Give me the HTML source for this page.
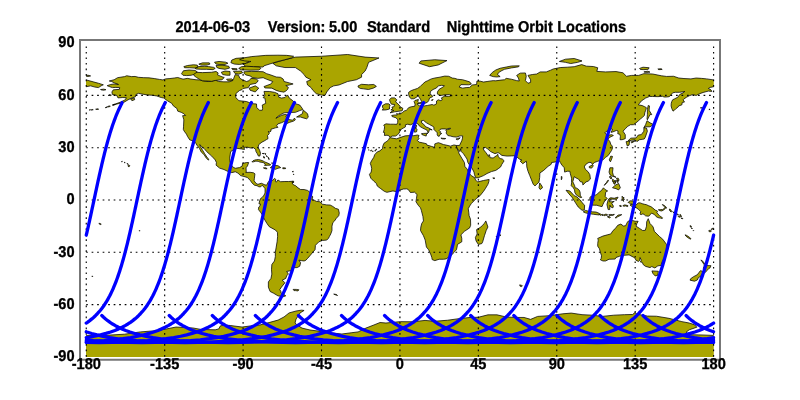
<!DOCTYPE html>
<html><head><meta charset="utf-8"><style>
html,body{margin:0;padding:0;background:#fff;width:800px;height:400px;overflow:hidden}
svg{position:absolute;left:0;top:0}
svg{will-change:transform}
text{stroke:#000;stroke-width:0.3px;font-family:"Liberation Sans",Arial,Helvetica,sans-serif;font-weight:bold;font-size:14.6px;fill:#000;text-rendering:geometricPrecision}
</style></head><body>
<svg width="800" height="400" viewBox="0 0 800 400">
<defs><clipPath id="c"><rect x="86" y="43.17" width="627.8" height="313.73"/></clipPath>
<clipPath id="c2"><rect x="83.26" y="43.17" width="633.34" height="313.67"/></clipPath></defs>
<g clip-path="url(#c)" fill="#aaa500" stroke="#000" stroke-width="0.75" stroke-linejoin="round">
<path d="M561.29,176.47 561.99,176.65 561.82,179.09 561.29,179.79Z"/><path d="M370.48,150.6 371.53,150.16 371.87,150.34 371,151.21Z"/><path d="M372.4,151.21 373.09,150.95 373.09,151.56 372.75,151.64Z"/><path d="M374.66,151.03 375.79,149.9 375.88,150.51 375.19,151.12Z"/><path d="M375.71,149.46 376.49,149.03 376.58,149.64 375.88,149.73Z"/><path d="M368.65,149.73 369,149.81 368.82,150.34Z"/><path d="M496.12,236.59 496.99,236.42 497.17,237.12 496.47,237.2Z"/><path d="M499.78,234.85 500.57,234.85 500.48,235.64 499.87,235.64Z"/><path d="M198.83,64.08 202.49,62.86 209.29,62.86 209.99,64.08 207.02,65.12 200.93,65.12Z"/><path d="M263.4,167.85 265.75,167.76 267.14,168.63 266.1,168.89 264.36,168.46Z"/><path d="M282.74,167.76 285.62,167.94 285.53,168.63 282.83,168.72Z"/><path d="M263.48,156.44 264.53,156.96 264.36,158.18 263.66,157.83Z"/><path d="M262.26,153.47 264.18,153.47 264.01,153.82Z"/><path d="M264.88,153.12 265.75,153.82 265.4,154.69Z"/><path d="M266.27,155.56 267.32,156.44 266.97,156.96Z"/><path d="M271.5,163.06 272.72,162.88 272.37,163.58Z"/><path d="M268.02,157.13 268.71,157.83 269.24,159.4 268.89,159.57Z"/><path d="M292.06,181.18 293.63,181.18 293.63,182.4 292.06,182.4Z"/><path d="M292.24,171.6 293.28,171.25 293.11,172.12Z"/><path d="M293.28,174.12 293.98,174.56 293.63,174.91Z"/><path d="M414.83,125.16 416.4,125.07 416.57,126.64 415.96,127.86 414.92,127.16Z"/><path d="M414.22,128.55 416.14,128.2 417.01,129.42 416.66,131.69 415.61,132.04 414.57,132.21 414.57,130.64Z"/><path d="M421.54,133.61 423.46,133.43 427.11,133.26 426.24,135 426.24,136.05 424.85,135.7 421.89,134.48Z"/><path d="M440.88,137.96 442.62,138.31 445.76,138.49 444.89,139.01 441.75,138.83Z"/><path d="M456.22,138.83 457.44,138.4 460.22,137.79 459,139.01 457.44,139.71 456.39,139.53Z"/><path d="M404.11,130.99 405.51,130.47 405.85,131.17 404.64,131.34Z"/><path d="M419.1,102.94 421.02,102.24 421.89,102.94 421.19,103.81 419.62,103.81Z"/><path d="M417.01,103.29 418.23,103.11 418.75,103.98 417.53,104.16Z"/><path d="M431.47,100.15 432.52,99.1 433.04,99.63 431.99,100.85Z"/><path d="M492.81,177.87 494.9,178.04 494.38,178.57 493.33,178.57Z"/><path d="M639.54,68.43 643.02,67.21 649.12,67.74 648.25,69.31 643.89,69.65 640.41,69.48Z"/><path d="M657.83,68.96 661.32,68.78 662.19,69.48 658.71,69.65Z"/><path d="M643.89,71.92 647.38,71.22 649.99,72.09 646.51,72.44Z"/><path d="M112.4,105.03 114.14,104.24 115.36,104.51 113.62,105.2Z"/><path d="M107.52,106.6 109.26,105.9 110.31,106.25 108.92,106.95Z"/><path d="M105.26,107.64 106.65,106.95 107.35,107.12 105.95,107.82Z"/><path d="M95.67,109.21 97.59,108.86 98.63,109.21 96.72,109.47Z"/><path d="M91.14,109.91 92.54,109.47 93.23,109.73 91.84,110.08Z"/><path d="M89.22,110.08 90.1,109.56 90.62,109.82Z"/><path d="M708.89,109.56 709.76,109.21 710.11,109.56Z"/><path d="M700.35,107.82 701.75,107.64 702.79,107.99 701.4,108.08Z"/><path d="M599.37,214.12 600.68,214.03 601.55,214.64 600.68,215.42 599.63,214.81Z"/><path d="M601.81,214.64 602.77,214.29 603.29,214.81 602.94,215.51 601.9,215.33Z"/><path d="M603.47,214.99 604.86,214.46 605.91,214.12 607.47,214.64 607.3,215.33 605.56,215.33 604.16,215.77Z"/><path d="M608.69,214.81 610.44,214.46 612.53,214.64 614.27,214.29 613.92,214.99 611.66,215.51 609.04,215.33Z"/><path d="M607.3,216.73 609.04,216.38 610.44,217.43 609.39,217.95 607.82,217.08Z"/><path d="M615.14,217.77 616.88,216.21 618.1,214.99 621.76,214.64 620.37,215.51 617.75,216.73 616.01,218.12Z"/><path d="M622.11,196.17 622.98,197.39 624.2,197.73 622.98,198.43 624.55,199.3 623.33,199.65 623.68,201.39 622.63,200.52 622.11,198.61Z"/><path d="M622.98,205.58 624.73,204.88 627.86,205.58 627.69,206.62 625.6,205.92 623.51,206.27Z"/><path d="M619.5,205.58 620.89,205.4 621.59,206.27 620.02,206.62Z"/><path d="M658.36,209.76 660.45,209.58 662.71,209.58 663.93,208.54 665.33,207.32 665.5,208.36 663.93,209.76 661.84,210.98 659.58,210.63Z"/><path d="M662.37,204.53 663.93,205.23 665.68,206.62 666.55,208.02 666.03,208.36 664.46,206.62 662.71,205.23Z"/><path d="M669.34,209.06 670.56,209.58 671.78,211.5 671.08,212.02 669.86,210.98Z"/><path d="M678.05,216.38 679.27,216.03 680.31,216.9 678.92,217.25Z"/><path d="M679.79,214.64 680.49,214.46 681.53,216.55 680.84,216.9Z"/><path d="M675.78,213.24 677,213.77 678.57,214.81 677.87,214.99 676.13,213.77Z"/><path d="M681.01,217.95 682.93,218.47 682.58,218.82 681.36,218.47Z"/><path d="M672.65,211.68 674.39,212.72 673.87,212.9Z"/><path d="M690.07,225.62 691.29,226.14 691.29,227.18 690.42,227.01Z"/><path d="M691.29,227.88 692.34,228.4 691.99,228.93Z"/><path d="M693.04,230.5 693.73,230.67 693.38,231.02Z"/><path d="M685.02,234.85 686.59,235.37 689.2,237.12 690.94,238.69 690.6,239.21 688.33,237.99 686.06,236.25Z"/><path d="M708.72,230.67 710.11,230.15 711.33,230.84 710.81,231.72 709.24,231.72Z"/><path d="M710.98,229.28 712.38,228.4 713.6,228.06 712.9,228.93 711.51,229.62Z"/><path d="M98.81,223.53 99.85,223.35 101.25,224.22 100.2,224.57Z"/><path d="M139.24,230.5 139.93,230.67 139.59,231.19Z"/><path d="M128.26,164.63 129.83,165.67 128.78,167.06 128.08,166.02Z"/><path d="M126.86,163.58 128.08,163.75 127.56,164.1Z"/><path d="M124.08,162.53 125.12,162.88 124.77,162.19Z"/><path d="M121.46,161.66 122.33,161.31 122.16,161.84Z"/><path d="M609.56,176.47 611.13,176.65 611.83,178.39 610.96,178.74 609.91,178.04Z"/><path d="M613.22,181.53 614.27,181.01 615.32,182.57 614.62,184.32 613.57,183.45Z"/><path d="M615.66,180.31 616.19,181.7 614.97,183.45 615.32,182.05Z"/><path d="M616.54,179.96 617.75,180.31 618.28,182.23 617.41,182.57 617.06,181.01Z"/><path d="M519.65,284.86 521.21,285.21 522.43,285.74 521.56,286.61 520.17,286.26Z"/><path d="M333.71,294.1 336.33,294.45 337.54,295.49 335.8,294.97Z"/><path d="M91.84,276.15 92.88,276.33 92.36,276.85Z"/><path d="M86.26,75.4 88,75.23 90.62,75.93 88,76.45 86.26,76.28Z"/><path d="M100.55,89.52 103.69,89.17 105.95,89.69 103.69,90.22 101.07,89.87Z"/><path d="M109.26,94.75 111.36,94.92 110.66,95.79Z"/><path d="M130.7,98.93 134.18,97.88 134.71,99.63 131.92,100.67Z"/><path d="M230.9,62.68 231.77,60.07 236.13,58.33 243.1,57.8 247.45,59.72 249.2,61.46 245.71,63.38 239.61,64.43 234.38,64.08Z"/><path d="M195,67.74 198.83,66.6 204.76,66.26 208.51,66.6 213.82,67.39 215.21,68.43 212.95,69.65 206.33,69.31 200.93,69.31 195.7,68.96Z"/><path d="M183.85,66.6 187.51,65.51 193.43,64.77 197.27,65.12 197.96,67.04 195,68.09 189.77,67.74 184.54,67.74Z"/><path d="M216.09,65.47 222.01,65.12 228.81,66.26 229.5,68.09 224.97,69.31 219.05,68.43 216.78,67.39Z"/><path d="M231.77,68.43 237,68.78 237,69.83 232.64,69.65Z"/><path d="M214.52,62.16 219.05,61.46 225.67,62.16 227.94,63.21 224.97,64.43 219.05,64.43 216.09,64.08Z"/><path d="M233.51,71.4 241.35,71.05 242.57,72.79 238.74,74.18 235.25,73.66Z"/><path d="M221.31,72.27 224.97,71.05 230.03,71.48 230.03,75.23 226.54,75.23 222.71,74.53Z"/><path d="M226.54,79.24 231.77,78.89 233.51,80.46 228.28,80.98Z"/><path d="M107.17,85.69 110.66,84.47 114.14,83.94 118.5,84.47 114.49,82.9 111.53,81.5 109.26,80.98 114.14,79.76 117.63,77.67 124.6,76.62 126.69,75.75 131.57,76.62 135.05,76.45 138.54,77.32 143.77,77.67 149,77.84 154.22,78.54 159.45,79.41 162.94,79.93 165.55,78.89 169.91,78.54 174.26,78.02 177.75,77.5 182.11,78.89 183.85,79.06 187.33,78.37 190.82,79.06 196.05,79.76 199.53,79.93 203.02,80.81 208.24,81.5 211.73,81.15 215.21,80.11 218.7,81.5 223.93,81.85 229.16,81.85 232.64,80.63 233.51,78.89 235.25,74.53 238.74,75.4 239.61,78.02 242.22,79.76 246.58,81.5 249.2,80.63 250.94,78.37 256.17,78.89 258.26,80.63 256.17,83.25 250.07,84.47 248.32,87.6 243.1,88.47 241.88,89.69 239.44,90.56 235.95,93.53 235.78,97.54 238.91,100.67 246.58,101.54 251.81,103.63 256.51,103.98 256.69,107.64 259.65,110.26 262.26,110.26 262.61,108.51 262.26,105.03 265.75,103.29 264.88,98.06 263.14,97.71 264.88,95.44 264.01,91.44 269.24,91.44 274.46,92.31 277.95,93.7 278.82,97.19 281.43,98.06 284.92,97.54 287.53,94.92 289.27,98.06 292.76,100.67 295.37,103.63 299.73,105.03 302.34,108.51 302.87,109.56 299.73,110.6 295.37,112.35 288.4,112.52 284.05,112.87 280.56,114.61 277.95,116.36 275.86,118.27 278.82,116.7 281.43,115.31 284.92,114.44 287.53,114.96 285.79,116.36 287.01,118.1 288.4,119.49 292.76,120.19 294.5,118.1 295.37,119.84 293.63,121.06 289.27,122.45 285.79,124.02 284.92,122.8 287.53,121.06 284.92,121.23 283.18,121.93 281.43,122.8 277.95,123.85 276.55,125.77 277.95,127.33 275.33,127.86 270.98,129.25 270.98,131.17 269.24,132.21 268.36,131.34 269.24,133.78 267.49,135.52 268.02,138.66 266.62,139.53 264.01,141.1 261.92,142.15 258.78,144.59 258.08,147.37 259.65,150.34 260.52,153.3 259.82,156.09 258.43,156.09 257.39,153.82 255.99,151.56 255.64,149.46 253.55,147.72 250.94,148.07 247.45,147.2 243.97,147.37 244.49,149.46 241.35,148.94 236.47,148.24 234.38,149.12 230.55,151.73 230.2,154.69 229.68,158.18 230.03,161.66 230.9,164.28 232.64,166.89 235.25,168.28 239.61,167.59 242.22,166.02 242.57,163.41 246.58,162.53 248.67,162.53 247.45,166.02 246.06,167.76 246.23,172.12 245.71,172.47 250.07,172.29 253.55,172.82 254.95,173.86 254.42,178.22 254.07,180.83 256.17,183.45 257.91,184.32 261.39,183.27 264.88,184.84 266.62,185.19 268.36,181.7 270.11,180.66 272.72,180.31 274.46,178.39 275.86,179.44 275.33,181.18 276.21,182.23 277.95,179.96 280.56,181.7 284.92,181.53 288.4,181.53 291.89,181.35 293.63,182.23 291.89,182.75 293.63,185.01 295.37,185.54 297.99,187.8 300.6,189.54 304.09,189.54 307.57,190.42 310.19,192.51 311.06,194.77 312.8,196.86 311.93,199.65 314.54,200.35 316.29,201.39 319.77,201.74 322.38,204.18 326.74,204.88 330.23,205.05 332.84,206.45 335.45,208.36 338.42,209.24 339.29,213.07 338.76,215.68 336.33,218.3 334.58,220.91 332.84,222.65 331.97,226.14 331.97,230.5 330.75,233.98 329.35,236.59 328.48,238.34 326.74,240.08 322.38,240.43 318.9,241.82 315.41,245.31 315.07,249.66 312.8,252.28 310.19,255.41 307.57,258.38 305.83,260.29 304.09,260.99 301.47,260.64 298.86,260.12 300.6,262.73 299.73,266.22 297.12,267.61 291.89,267.61 291.54,270.58 286.66,271.45 288.4,274.06 286.66,275.8 285.79,278.42 282.3,280.16 284.92,282.77 281.43,287.13 279.69,289.74 280.91,291.31 280.56,292.36 285.79,295.84 283.18,296.71 277.95,295.84 273.59,293.23 270.11,291.49 268.36,287.13 268.36,281.9 270.98,278.42 271.85,274.06 271.5,269.7 271.85,264.48 274.46,260.99 275.33,256.63 275.33,252.28 276.21,247.05 277.08,241.82 277.6,236.59 277.43,232.24 275.33,229.97 269.24,226.66 266.97,223.53 264.88,220.04 262.26,214.81 260.52,212.2 258.43,209.58 258.78,206.97 260,205.92 260.52,204.01 258.95,203.83 259.65,200.87 260.52,198.61 262.26,197.39 264.01,195.12 265.05,193.03 265.05,188.67 264.01,187.28 262.26,185.19 260.52,186.93 258.78,186.76 257.04,185.71 254.42,185.19 251.81,182.75 250.59,180.83 247.45,177.52 243.97,176.47 240.48,175.6 237.87,172.99 235.25,171.77 231.77,172.64 228.28,171.6 223.93,169.5 219.57,168.11 216.09,165.15 216.43,162.53 215.21,159.92 211.73,156.09 209.12,153.82 206.5,151.38 204.24,148.59 201.27,146.33 199.88,144.59 200.4,146.85 202.67,150.34 204.76,153.82 207.37,157.83 209.12,159.57 208.24,160.09 205.63,157.31 204.41,155.04 201.27,152.08 199.53,148.59 196.92,145.11 195.7,143.02 193.78,141.1 189.77,139.88 187.51,136.4 186.46,134.13 184.2,131.17 183.32,129.42 183.5,126.81 183.85,119.84 182.63,115.66 185.59,115.48 183.85,113.74 181.23,112.35 177.75,111.13 176.88,108.51 173.39,105.9 171.65,103.29 167.29,100.67 163.81,98.06 161.19,97.54 156.84,95.97 152.48,95.27 147.25,94.92 142.03,94.05 138.54,93.35 135.93,94.57 135.4,96.84 132.44,97.71 128.08,99.8 123.73,102.41 118.5,103.63 112.75,105.03 115.89,103.81 121.11,101.89 125.47,99.63 126.34,97.71 122.86,97.54 117.98,97.88 116.76,95.44 112.4,94.4 111.88,91.96 113.27,89.87 119.37,89.34 119.72,87.6 115.89,87.43 112.4,87.6 109.79,86.73Z"/><path d="M272.72,63.21 284.92,59.72 295.37,57.11 321.51,56.24 347.65,54.49 365.08,57.11 379.02,57.98 368.56,62.33 366.82,67.56 365.08,71.05 361.59,74.53 361.59,77.15 356.37,79.76 347.65,81.5 338.94,84.99 333.71,85.86 330.23,87.6 326.74,91.96 325,95.44 321.51,95.1 316.29,93.7 312.8,90.22 311.06,87.6 307.57,84.99 306.7,81.5 311.06,79.76 305.83,77.15 304.09,74.53 300.6,71.05 295.37,67.56 284.92,67.56 276.21,65.82Z"/><path d="M243.97,71.74 251.81,71.4 258.78,71.57 263.14,71.74 266.62,73.66 270.98,75.06 276.21,76.97 280.56,77.32 283.18,79.06 284.05,81.5 289.27,82.9 293.11,83.94 289.27,84.99 285.79,85.51 288.4,87.43 287.53,89.52 285.79,91.09 283.87,92.13 279.69,91.44 276.21,90.39 271.85,88.13 264.88,87.95 264.01,86.56 270.98,83.94 272.72,81.5 266.62,79.24 263.14,77.67 257.91,78.37 252.68,77.67 250.07,75.93 245.71,74.88 243.97,73.14Z"/><path d="M193.08,73.75 195.7,72.27 202.49,72.62 211.55,72.27 216.09,71.48 218.18,72.96 217.48,74.88 222.01,76.8 224.28,77.5 222.01,79.76 215.21,80.46 211.55,81.33 202.49,80.81 200.23,79.76 196.57,77.5 194.3,75.93Z"/><path d="M181.5,73.75 183.39,70.75 189.01,70 195,70.4 197.27,71.92 193.5,74.5 191.25,75.25 186.76,75.6 182.99,75.25Z"/><path d="M243.97,66.69 253.55,66.87 263.14,67.04 264.01,65.82 272.72,63.03 277.95,61.46 284.92,59.72 291.89,57.8 293.63,56.24 286.66,55.36 277.95,55.19 265.75,55.36 251.81,56.58 243.1,57.98 239.61,59.72 244.84,60.94 250.94,61.46 246.58,63.21 243.1,64.08 244.84,65.3Z"/><path d="M238.74,68.43 241.35,66.69 246.58,66.17 253.55,66.69 259.65,67.04 260.87,68.43 258.78,70 250.07,70.18 241.35,69.83Z"/><path d="M249.2,88.13 255.29,85.86 258.78,88.13 255.29,91.96 250.07,90.22Z"/><path d="M296.59,117.05 302.34,113.74 303.22,110.08 307.57,113.74 308.27,117.23 306.7,118.79 303.22,117.92 300.6,117.05Z"/><path d="M358.11,85.86 361.59,84.29 368.56,84.81 373.79,84.47 376.4,86.38 373.79,87.95 368.56,89.52 363.34,88.82 360.37,88.47 358.11,87.08Z"/><path d="M390,112.87 394.7,111.82 402.2,110.78 402.89,108.34 400.45,106.95 399.06,105.03 397.14,103.11 395.57,101.89 396.79,99.8 394.7,97.88 391.22,97.88 389.47,99.8 390.35,102.41 391.39,104.16 394.7,104.51 393.83,106.77 391.91,107.12 392.61,108.86 390.87,109.91 393.83,110.43 392.09,111.13Z"/><path d="M389.47,109.04 389.47,106.77 390.17,105.03 388.6,103.81 385.47,103.81 382.5,105.55 382.5,107.29 383.38,108.86 382.16,110.08 385.99,109.91Z"/><path d="M390.17,137.27 388.95,135.87 387.03,135.18 384.42,135.52 384.6,132.56 383.38,132.39 384.25,129.42 384.6,126.81 383.72,125.07 385.99,123.85 390.35,124.2 393.83,124.2 396.79,124.37 397.66,122.45 397.84,119.84 395.92,117.75 392.09,116.53 391.74,115.48 394.7,114.96 397.14,115.14 396.62,113.39 397.84,113.92 400.28,113.74 402.54,112.52 404.29,110.95 406.2,110.43 407.77,108.86 408.64,107.64 411.26,106.77 414.74,106.25 415.09,104.16 414.05,101.54 414.92,100.5 418.4,99.45 417.88,101.54 418.75,102.41 417.18,104.16 418.23,105.2 419.1,105.9 421.71,105.2 424.33,105.9 427.81,105.38 432.17,104.51 433.91,105.2 436.52,103.81 436.52,101.02 438.27,99.8 440.88,100.67 442.28,99.8 441.4,97.88 444.37,96.32 448.72,96.32 452.21,95.62 449.59,94.57 445.24,94.75 440.01,95.62 437.4,94.05 437.4,91.96 439.14,89.34 443.5,86.73 444.37,85.69 441.75,85.34 438.27,85.86 436.52,87.95 433.04,89.52 430.43,91.44 430.08,94.22 432.17,95.44 432.69,96.66 429.55,98.06 428.68,100.67 427.46,102.24 424.67,103.46 422.24,103.11 421.71,101.72 420.49,99.28 419.1,97.19 418.23,95.79 416.48,97.19 413.87,98.75 411.26,98.75 409.51,97.19 408.64,94.57 408.64,92.31 411.26,90.56 414.74,89.34 417.36,88.47 419.97,86.73 422.58,84.12 425.2,81.85 427.81,80.63 431.3,78.89 434.78,78.02 440.01,77.15 444.71,76.1 448.72,76.28 452.21,78.02 454.82,78.37 457.44,79.24 462.66,79.76 469.63,81.85 471.38,84.12 468.76,84.81 460.92,84.64 459.18,87.08 462.66,88.13 466.15,87.6 469.63,87.43 472.25,84.99 476.6,84.47 476.95,80.98 480.09,81.15 483.57,82.03 487.06,81.5 493.16,80.63 495.77,80.81 501,80.11 504.49,79.76 506.23,78.37 511.46,79.24 516.68,80.63 519.3,80.98 518.43,78.02 516.68,75.4 520.17,73.14 525.4,72.96 526.27,76.28 525.4,80.63 528.01,83.25 530.62,82.37 530.62,79.76 528.01,75.4 532.37,74.53 536.72,74.01 540.21,71.92 546.31,71.92 550.66,70.18 553.28,68.96 560.25,67.56 567.22,67.21 574.19,66.69 581.68,64.6 586.39,66.17 593.36,66.52 597.72,67.74 596.84,71.4 605.56,71.92 616.01,71.57 622.98,72.79 626.47,76.28 631.7,75.4 638.67,75.4 643.89,73.66 652.61,74.01 661.32,75.75 666.55,76.45 673.52,76.28 678.75,78.02 683.97,78.54 690.94,78.89 696.17,78.02 701.4,78.37 706.63,78.89 713.6,79.93 720.57,81.85 725.8,83.25 730.68,84.81 728.41,85.86 725.8,87.6 722.31,87.08 717.95,85.86 713.6,86.73 710.11,87.43 708.37,88.47 710.98,89.87 711.86,91.44 708.37,91.09 703.14,92.48 699.66,93.7 696.17,95.44 692.69,94.57 689.2,95.79 686.59,97.19 683.97,98.93 683.1,99.8 684.5,102.07 682.23,102.41 681.88,104.85 678.75,105.9 677.87,107.29 676.13,108.51 674.39,110.26 673,111.13 671.78,108.51 671.08,105.9 671.25,103.29 671.78,101.54 672.65,99.8 674.39,98.93 677.87,97.19 679.62,94.57 683.1,92.83 684.85,91.44 679.62,92.31 675.26,92.31 672.65,92.83 670.03,95.97 669.16,96.66 666.55,97.01 663.93,97.01 662.71,96.32 657.83,96.66 652.61,96.49 649.47,96.49 645.64,98.06 643.89,99.28 641.28,101.02 639.54,103.29 638.32,104.85 642.15,105.55 644.77,106.77 646.33,107.64 645.99,109.38 645.64,110.26 644.77,112.87 644.42,115.48 642.15,117.58 640.41,118.97 638.14,121.06 636.05,122.8 633.44,124.72 630.48,124.72 629.08,125.59 627.69,126.29 625.6,128.55 622.98,131.17 625.25,134.65 625.25,138.66 622.11,139.71 620.02,139.71 620.37,136.4 619.85,134.3 617.75,133.78 618.1,131.17 616.36,130.47 612.53,132.04 611.13,132.39 612.53,129.42 610.78,128.73 608.17,130.64 605.56,131.86 604.86,132.91 606.43,134.65 608.17,135.35 611.66,134.65 613.4,135.52 609.91,137.27 607.82,139.01 609.91,141.62 610.78,144.24 612.18,145.98 612.53,147.9 611.66,150.34 609.91,152.95 608.17,155.56 605.56,157.31 602.94,159.92 599.46,160.79 597.72,161.31 594.23,162.53 592.49,164.63 591.27,162.53 589,162.36 587.26,163.41 585.52,164.63 584.3,166.89 585.52,169.5 588.13,171.77 589.87,174.73 590.4,179.09 588.13,181.18 586.04,181.88 582.9,185.01 582.55,182.23 580.29,181.7 578.55,179.09 575.93,177.87 574.19,176.65 572.8,181.7 573.84,183.97 574.71,185.71 575.06,187.8 576.8,188.15 579.07,189.89 580.11,192.16 580.29,195.29 581.68,197.56 580.11,197.39 576.46,195.12 574.89,192.68 574.54,189.89 573.32,187.8 571.23,185.71 571.58,182.57 571.58,178.22 570.36,173.86 569.83,171.25 567.22,171.25 564.61,172.12 564.26,167.76 561.99,165.15 560.25,162.53 559.38,160.79 557.64,161.66 555.02,162.01 551.54,162.53 551.19,164.28 548.05,166.37 543.69,170.38 539.86,172.99 539.69,177.35 538.99,182.05 536.72,184.32 534.98,185.88 533.24,184.32 531.5,179.96 529.75,175.6 528.01,171.25 526.79,166.89 526.62,163.41 526.27,161.14 522.78,163.75 520.17,161.14 521.91,160.09 519.3,159.05 516.68,156.78 515.81,155.74 511.46,155.91 507.1,156.09 501.87,155.39 499.26,153.3 498.04,152.6 494.9,153.65 490.55,151.56 487.93,149.12 485.32,147.37 483.57,147.9 483.23,148.94 484.45,150.86 486.19,152.95 487.58,155.04 488.45,156.44 489.15,154.52 489.85,156.09 489.85,157.65 493.16,158 496.64,155.56 497.86,154.34 498.21,156.61 500.13,158.53 502.39,159.05 504.14,160.79 501.87,164.28 500.65,166.89 498.39,168.63 495.77,170.38 491.42,171.6 487.06,173.51 483.57,175.6 478.35,177.69 475.73,177.87 474.51,174.73 473.99,172.12 472.25,168.63 469.63,165.15 467.89,162.53 467.02,159.05 465.28,156.44 463.53,153.82 460.92,151.21 460.75,148.59 459.7,151.56 456.74,147.9 456.22,145.46 459.53,145.46 460.75,142.84 461.79,140.75 462.49,138.14 462.66,135.87 460.05,135.87 456.56,137.09 453.08,136.74 450.47,136.05 447.85,135.52 446.11,133.08 446.63,131.17 445.59,130.3 446.11,129.77 447.85,129.6 450.47,128.73 450.47,128.2 447.85,128.55 446.11,129.25 445.24,128.9 441.75,128.9 440.01,129.42 439.14,130.3 440.53,131.69 440.01,132.91 441.75,133.43 440.01,134.65 439.14,136.4 437.74,135.87 437.05,134.13 437.4,132.91 435.65,131.17 433.91,129.42 433.91,127.16 432.17,125.94 429.55,124.55 426.42,122.8 424.33,121.23 423.63,120.36 421.36,120.89 421.71,122.98 423.63,124.2 425.72,126.81 428.16,127.68 432.17,129.95 429.55,129.42 428.68,132.04 427.29,133.78 427.99,132.21 427.11,130.3 425.2,129.25 422.24,127.86 419.45,126.11 418.23,124.2 415.61,122.63 413,123.67 410.39,124.89 407.77,124.2 405.33,124.89 405.51,126.81 403.42,128.03 401.32,129.08 399.93,131.17 399.06,133.26 397.32,134.83 395.57,136.05 392.09,136.05Z"/><path d="M-237.16,137.27 -238.38,135.87 -240.3,135.18 -242.92,135.52 -242.74,132.56 -243.96,132.39 -243.09,129.42 -242.74,126.81 -243.61,125.07 -241.35,123.85 -236.99,124.2 -233.51,124.2 -230.54,124.37 -229.67,122.45 -229.5,119.84 -231.41,117.75 -235.25,116.53 -235.6,115.48 -232.63,114.96 -230.19,115.14 -230.72,113.39 -229.5,113.92 -227.06,113.74 -224.79,112.52 -223.05,110.95 -221.13,110.43 -219.56,108.86 -218.69,107.64 -216.08,106.77 -212.59,106.25 -212.25,104.16 -213.29,101.54 -212.42,100.5 -208.93,99.45 -209.46,101.54 -208.59,102.41 -210.15,104.16 -209.11,105.2 -208.24,105.9 -205.62,105.2 -203.01,105.9 -199.52,105.38 -195.17,104.51 -193.43,105.2 -190.81,103.81 -190.81,101.02 -189.07,99.8 -186.45,100.67 -185.06,99.8 -185.93,97.88 -182.97,96.32 -178.61,96.32 -175.13,95.62 -177.74,94.57 -182.1,94.75 -187.33,95.62 -189.94,94.05 -189.94,91.96 -188.2,89.34 -183.84,86.73 -182.97,85.69 -185.58,85.34 -189.07,85.86 -190.81,87.95 -194.3,89.52 -196.91,91.44 -197.26,94.22 -195.17,95.44 -194.65,96.66 -197.78,98.06 -198.65,100.67 -199.87,102.24 -202.66,103.46 -205.1,103.11 -205.62,101.72 -206.84,99.28 -208.24,97.19 -209.11,95.79 -210.85,97.19 -213.47,98.75 -216.08,98.75 -217.82,97.19 -218.69,94.57 -218.69,92.31 -216.08,90.56 -212.59,89.34 -209.98,88.47 -207.37,86.73 -204.75,84.12 -202.14,81.85 -199.52,80.63 -196.04,78.89 -192.55,78.02 -187.33,77.15 -182.62,76.1 -178.61,76.28 -175.13,78.02 -172.51,78.37 -169.9,79.24 -164.67,79.76 -157.7,81.85 -155.96,84.12 -158.57,84.81 -166.42,84.64 -168.16,87.08 -164.67,88.13 -161.19,87.6 -157.7,87.43 -155.09,84.99 -150.73,84.47 -150.38,80.98 -147.25,81.15 -143.76,82.03 -140.28,81.5 -134.18,80.63 -131.56,80.81 -126.34,80.11 -122.85,79.76 -121.11,78.37 -115.88,79.24 -110.65,80.63 -108.04,80.98 -108.91,78.02 -110.65,75.4 -107.17,73.14 -101.94,72.96 -101.07,76.28 -101.94,80.63 -99.32,83.25 -96.71,82.37 -96.71,79.76 -99.32,75.4 -94.97,74.53 -90.61,74.01 -87.13,71.92 -81.03,71.92 -76.67,70.18 -74.06,68.96 -67.09,67.56 -60.12,67.21 -53.15,66.69 -45.65,64.6 -40.95,66.17 -33.98,66.52 -29.62,67.74 -30.49,71.4 -21.78,71.92 -11.32,71.57 -4.35,72.79 -0.87,76.28 4.36,75.4 11.33,75.4 16.56,73.66 25.27,74.01 33.98,75.75 39.21,76.45 46.18,76.28 51.41,78.02 56.64,78.54 63.61,78.89 68.84,78.02 74.06,78.37 79.29,78.89 86.26,79.93 93.23,81.85 98.46,83.25 103.34,84.81 101.07,85.86 98.46,87.6 94.98,87.08 90.62,85.86 86.26,86.73 82.78,87.43 81.03,88.47 83.65,89.87 84.52,91.44 81.03,91.09 75.81,92.48 72.32,93.7 68.84,95.44 65.35,94.57 61.87,95.79 59.25,97.19 56.64,98.93 55.77,99.8 57.16,102.07 54.9,102.41 54.55,104.85 51.41,105.9 50.54,107.29 48.8,108.51 47.05,110.26 45.66,111.13 44.44,108.51 43.74,105.9 43.92,103.29 44.44,101.54 45.31,99.8 47.05,98.93 50.54,97.19 52.28,94.57 55.77,92.83 57.51,91.44 52.28,92.31 47.92,92.31 45.31,92.83 42.7,95.97 41.83,96.66 39.21,97.01 36.6,97.01 35.38,96.32 30.5,96.66 25.27,96.49 22.13,96.49 18.3,98.06 16.56,99.28 13.94,101.02 12.2,103.29 10.98,104.85 14.82,105.55 17.43,106.77 19,107.64 18.65,109.38 18.3,110.26 17.43,112.87 17.08,115.48 14.82,117.58 13.07,118.97 10.81,121.06 8.72,122.8 6.1,124.72 3.14,124.72 1.75,125.59 0.35,126.29 -1.74,128.55 -4.35,131.17 -2.09,134.65 -2.09,138.66 -5.22,139.71 -7.32,139.71 -6.97,136.4 -7.49,134.3 -9.58,133.78 -9.23,131.17 -10.98,130.47 -14.81,132.04 -16.2,132.39 -14.81,129.42 -16.55,128.73 -19.17,130.64 -21.78,131.86 -22.48,132.91 -20.91,134.65 -19.17,135.35 -15.68,134.65 -13.94,135.52 -17.42,137.27 -19.51,139.01 -17.42,141.62 -16.55,144.24 -15.16,145.98 -14.81,147.9 -15.68,150.34 -17.42,152.95 -19.17,155.56 -21.78,157.31 -24.39,159.92 -27.88,160.79 -29.62,161.31 -33.11,162.53 -34.85,164.63 -36.07,162.53 -38.33,162.36 -40.08,163.41 -41.82,164.63 -43.04,166.89 -41.82,169.5 -39.21,171.77 -37.46,174.73 -36.94,179.09 -39.21,181.18 -41.3,181.88 -44.43,185.01 -44.78,182.23 -47.05,181.7 -48.79,179.09 -51.4,177.87 -53.15,176.65 -54.54,181.7 -53.49,183.97 -52.62,185.71 -52.27,187.8 -50.53,188.15 -48.27,189.89 -47.22,192.16 -47.05,195.29 -45.65,197.56 -47.22,197.39 -50.88,195.12 -52.45,192.68 -52.8,189.89 -54.02,187.8 -56.11,185.71 -55.76,182.57 -55.76,178.22 -56.98,173.86 -57.5,171.25 -60.12,171.25 -62.73,172.12 -63.08,167.76 -65.34,165.15 -67.09,162.53 -67.96,160.79 -69.7,161.66 -72.31,162.01 -75.8,162.53 -76.15,164.28 -79.28,166.37 -83.64,170.38 -87.48,172.99 -87.65,177.35 -88.35,182.05 -90.61,184.32 -92.35,185.88 -94.1,184.32 -95.84,179.96 -97.58,175.6 -99.32,171.25 -100.54,166.89 -100.72,163.41 -101.07,161.14 -104.55,163.75 -107.17,161.14 -105.42,160.09 -108.04,159.05 -110.65,156.78 -111.52,155.74 -115.88,155.91 -120.24,156.09 -125.46,155.39 -128.08,153.3 -129.3,152.6 -132.43,153.65 -136.79,151.56 -139.4,149.12 -142.02,147.37 -143.76,147.9 -144.11,148.94 -142.89,150.86 -141.15,152.95 -139.75,155.04 -138.88,156.44 -138.18,154.52 -137.49,156.09 -137.49,157.65 -134.18,158 -130.69,155.56 -129.47,154.34 -129.12,156.61 -127.21,158.53 -124.94,159.05 -123.2,160.79 -125.46,164.28 -126.68,166.89 -128.95,168.63 -131.56,170.38 -135.92,171.6 -140.28,173.51 -143.76,175.6 -148.99,177.69 -151.6,177.87 -152.82,174.73 -153.35,172.12 -155.09,168.63 -157.7,165.15 -159.44,162.53 -160.32,159.05 -162.06,156.44 -163.8,153.82 -166.42,151.21 -166.59,148.59 -167.63,151.56 -170.6,147.9 -171.12,145.46 -167.81,145.46 -166.59,142.84 -165.54,140.75 -164.85,138.14 -164.67,135.87 -167.29,135.87 -170.77,137.09 -174.26,136.74 -176.87,136.05 -179.48,135.52 -181.23,133.08 -180.7,131.17 -181.75,130.3 -181.23,129.77 -179.48,129.6 -176.87,128.73 -176.87,128.2 -179.48,128.55 -181.23,129.25 -182.1,128.9 -185.58,128.9 -187.33,129.42 -188.2,130.3 -186.8,131.69 -187.33,132.91 -185.58,133.43 -187.33,134.65 -188.2,136.4 -189.59,135.87 -190.29,134.13 -189.94,132.91 -191.68,131.17 -193.43,129.42 -193.43,127.16 -195.17,125.94 -197.78,124.55 -200.92,122.8 -203.01,121.23 -203.71,120.36 -205.97,120.89 -205.62,122.98 -203.71,124.2 -201.62,126.81 -199.18,127.68 -195.17,129.95 -197.78,129.42 -198.65,132.04 -200.05,133.78 -199.35,132.21 -200.22,130.3 -202.14,129.25 -205.1,127.86 -207.89,126.11 -209.11,124.2 -211.72,122.63 -214.34,123.67 -216.95,124.89 -219.56,124.2 -222,124.89 -221.83,126.81 -223.92,128.03 -226.01,129.08 -227.41,131.17 -228.28,133.26 -230.02,134.83 -231.76,136.05 -235.25,136.05Z"/><path d="M389.65,137.61 396.44,138.83 399.93,137.61 405.16,135.87 410.39,135.52 413.87,135.7 417.36,135 419.1,135.52 418.23,137.27 419.1,138.66 417.36,140.4 419.1,142.15 422.58,142.84 426.42,143.71 426.94,145.11 431.3,146.33 433.91,147.2 434.78,145.98 434.78,143.89 438.27,142.67 440.01,143.19 443.5,144.59 446.98,145.28 450.47,146.15 453.95,144.93 456.22,145.46 456.74,147.9 458.31,151.21 459.18,153.82 461.79,158.18 464.41,162.53 464.93,166.89 467.02,168.63 468.76,172.99 471.38,175.6 474.86,177.87 475.56,179.96 477.48,181.88 480.09,181.35 483.57,180.48 489.15,179.44 488.8,181.7 487.93,184.32 485.32,188.67 483.57,191.29 480.09,195.64 476.6,198.26 473.99,200.87 471.38,203.49 469.63,206.1 468.24,208.71 468.76,212.2 469.11,215.68 470.51,219.17 470.68,225.27 469.63,227.88 464.41,231.37 460.92,234.85 461.79,238.34 461.79,241.82 457.44,244.44 457.09,247.05 456.39,249.84 453.95,252.28 452.21,254.54 448.72,257.16 446.11,258.9 443.5,259.25 439.14,259.25 434.78,260.64 432.17,259.6 431.82,257.51 430.95,254.89 428.68,249.84 426.42,247.05 425.2,240.08 423.46,235.72 420.49,230.5 420.84,227.01 421.71,223.53 423.46,220.91 422.93,216.55 421.36,210.46 420.49,207.84 418.23,205.23 415.96,201.74 416.48,198.26 417.01,194.77 415.61,193.03 414.74,192.16 410.39,192.51 408.64,189.89 406.9,188.85 403.42,189.02 399.93,190.07 396.44,191.64 392.96,190.94 386.86,192.33 384.25,191.29 380.76,188.67 377.28,186.06 376.4,183.45 373.79,181.18 370.83,178.22 369.43,174.38 371.18,172.12 371.7,168.63 371.18,166.02 370.31,163.41 371.53,160.79 373.79,157.31 374.66,154.69 377.28,151.9 379.89,150.86 382.5,148.59 382.85,145.98 383.9,143.37 386.86,141.27 388.6,139.88Z"/><path d="M485.84,220.91 487.93,227.01 486.19,230.5 484.45,235.72 482.7,241.82 481.83,243.56 478.35,244.44 476.08,240.95 475.38,237.47 477.13,233.98 476.6,229.62 480.09,227.53 482.7,225.27 484.45,223.18Z"/><path d="M597.72,238.34 598.59,237.99 602.94,236.07 607.3,234.85 610.78,233.98 613.05,230.5 615.14,228.75 617.75,225.27 620.89,224.05 623.33,225.96 625.6,225.79 626.82,223.18 627.86,221.43 630.82,220.04 632.57,220.56 635.18,221.26 638.14,221.26 636.92,223.53 636.05,226.14 639.54,228.4 642.67,230.5 645.29,230.32 646.51,226.14 646.68,221.78 648.25,218.65 649.99,223.53 651.74,225.27 653.13,227.01 654.35,231.37 656.96,233.98 659.58,236.59 662.71,239.21 666.55,244.44 667.59,249.66 666.55,254.02 663.93,258.38 661.67,262.73 661.15,265.35 657.83,265.87 654.87,267.96 651.74,266.57 649.99,267.61 645.64,266.39 643.37,264.82 642.15,262.21 640.41,262.04 641.28,260.12 640.06,257.51 639.54,260.64 638.32,261.51 636.92,260.64 636.05,260.47 635.18,258.38 633.44,257.16 629.08,254.89 624.73,255.24 619.5,256.29 616.01,257.51 615.14,259.07 609.04,259.25 605.56,260.99 602.94,260.99 600.33,259.77 601.2,258.38 601.55,255.76 600.33,252.28 599.46,248.79 597.72,246.18 597.72,243.56 598.24,240.08Z"/><path d="M651.91,270.92 658.36,271.27 657.83,275.28 655.22,275.98 652.96,273.54Z"/><path d="M700.88,259.95 703.14,261.51 704.88,264.13 706.63,265.52 710.98,265.7 709.94,267.96 708.37,268.83 706.98,270.58 705.23,272.49 704.19,271.97 704.88,269.7 703.14,268.31 704.19,266.22 704.01,264.48 702.27,261.86Z"/><path d="M700.88,270.58 703.67,272.49 701.4,274.93 700.88,276.33 698.44,277.55 697.39,279.99 694.43,281.21 690.07,280.16 690.6,278.77 693.56,276.67 697.04,274.93 698.79,272.84 699.83,271.27Z"/><path d="M647.38,119.84 649.99,114.61 651.74,114.61 649.12,110.26 649.47,105.9 648.25,105.38 647.38,109.38 647.38,114.61 647.03,118.97Z"/><path d="M628.04,140.75 630.82,138.14 636.05,137.96 638.32,135 641.28,134.65 643.89,131.17 643.89,127.68 646.51,128.03 647.38,131.17 645.29,137.27 644.24,139.01 642.15,139.36 639.54,139.71 636.92,141.62 635.18,139.88 631.7,140.23 629.08,140.93Z"/><path d="M626.12,141.62 629.6,141.1 629.08,145.11 627.34,145.98 626.47,143.37Z"/><path d="M630.82,141.97 634.66,140.75 633.61,141.97 631.7,142.84Z"/><path d="M643.89,127.68 645.64,124.55 647.03,120.71 649.99,122.8 653.48,124.55 649.99,126.81 645.64,126.81Z"/><path d="M609.22,159.92 610.78,156.09 612.53,156.44 611.66,159.05 610.44,161.84Z"/><path d="M589.18,166.54 592.49,164.97 593.36,165.85 591.62,168.11 589.35,167.76Z"/><path d="M609.04,172.12 609.91,167.76 613.05,167.76 612.53,172.12 613.4,175.6 616.01,177.35 611.66,175.95 610.09,174.91Z"/><path d="M612.53,187.8 615.14,185.19 618.63,183.45 620.37,187.8 618.63,189.89 616.01,188.67Z"/><path d="M616.36,178.22 618.28,178.22 619.15,180.31 617.75,180.83 617.23,179.44Z"/><path d="M612.35,179.44 613.57,179.79 614.62,180.66 613.4,181.7 612.53,181.53Z"/><path d="M604.16,185.36 606.08,183.79 607.82,181.7 608.52,180.31 607.65,180.48 606.43,182.57 604.69,184.49Z"/><path d="M589.87,197.39 590.92,196.51 594.23,195.64 596.84,194.42 599.46,191.98 601.2,190.76 603.47,187.8 605.03,189.54 607.65,190.94 605.56,192.33 605.21,196.51 607.3,198.61 604.69,200.87 602.94,204.36 602.07,206.62 599.46,206.1 596.84,205.23 594.23,205.23 591.96,205.05 591.62,202.61 589.87,200Z"/><path d="M566,190.24 569.83,190.94 574.19,195.64 576.8,196.86 580.29,200 582.03,202.61 584.65,205.23 584.3,210.11 582.03,210.28 578.2,206.97 575.06,202.09 572.1,197.39 568.96,193.9Z"/><path d="M583.25,211.85 585.52,210.46 589,211.33 592.49,211.85 595.97,212.02 599.46,213.42 599.28,214.99 593.36,214.29 589,213.59 585.52,212.9Z"/><path d="M607.3,206.1 606.95,204.36 608.17,200 609.04,198.61 610.78,197.73 614.27,198.26 616.88,197.39 618.1,197.21 616.88,199.13 612.53,199.13 609.91,199.13 609.39,201.74 611.66,201.74 614.27,201.39 611.66,203.14 613.4,206.1 612.88,207.84 610.78,206.97 609.91,205.23 609.74,209.58 608.17,209.58Z"/><path d="M628.04,202.44 629.08,201.39 630.82,200.7 632.57,201.22 633.61,201.57 633.79,203.83 635.18,205.75 636.05,205.23 636.92,204.01 638.67,202.79 640.41,202.96 642.15,203.66 644.77,204.36 646.51,204.71 648.25,205.58 650.86,206.62 652.61,207.84 654,209.06 655.22,210.11 656.96,210.8 657.66,211.33 656.79,212.2 657.83,213.94 659.58,215.68 660.97,216.73 662.71,217.95 662.19,218.47 660.45,218.12 657.83,217.6 656.09,216.55 654.35,214.46 651.74,213.24 650.17,214.46 649.47,215.68 648.25,216.21 645.64,215.86 643.89,214.29 642.15,213.94 641.28,214.64 640.41,214.46 640.06,213.07 640.93,211.85 638.67,209.58 636.92,208.19 634.83,207.14 633.44,206.8 632.39,206.97 631.35,206.1 629.95,204.88 630.82,204.71 632.57,204.36 631.7,204.01 630.3,203.83 629.08,202.79Z"/><path d="M538.99,187.8 539.69,182.92 541.95,186.06 542.47,187.8 540.21,189.54Z"/><path d="M251.9,161.91 253.03,160.79 254.95,160.01 256.34,159.66 258.43,159.57 260.52,160.01 263.14,160.97 264.88,162.01 268.02,163.23 270.75,164.71 270.11,165.15 267.84,165.24 264.53,165.41 265.4,164.1 263.14,162.53 259.65,162.01 258.43,161.49 257.04,161.14 255.29,161.31 253.55,161.84Z"/><path d="M270.28,167.76 273.07,165.32 277.95,165.67 280.74,167.59 277.95,168.28 275.33,169.33 273.07,168.28Z"/><path d="M419.1,63.21 429.55,66.69 438.27,64.95 446.98,60.59 434.78,59.72 420.84,60.94Z"/><path d="M489.67,75.4 492.29,72.44 495.77,70 500.13,68.26 506.23,67.04 511.46,65.99 519.3,65.82 518.43,66.87 511.46,67.91 504.49,69.31 501,71.05 498.39,72.79 497.52,74.53 500.13,76.62 496.64,76.97 493.16,76.62Z"/><path d="M559.38,61.46 565.48,59.2 574.19,58.5 582.03,60.94 577.68,62.33 570.7,63.55 565.48,62.33Z"/><path d="M293.11,289.4 296.25,289.4 298.86,289.74 297.99,290.96 295.72,290.62 293.98,290.62Z"/><path d="M84.52,360.32 84.52,335.92 86.26,335.4 103.69,335.57 109.96,335.05 124.6,334.18 140.28,331.91 155.97,330.69 166.42,328.95 176.01,327.04 192.56,327.91 201.27,329.48 215.21,329.82 218.7,328.95 220.44,325.82 225.67,325.12 230.2,325.47 242.05,327.04 250.07,325.99 260,324.94 269.93,322.33 278.12,320.07 284.05,316.93 289.1,312.92 296.07,311 301.47,310.13 304.09,310.48 300.08,312.92 296.07,319.02 295.03,323.03 297.12,324.94 302,328.08 310.01,330 318.03,331.04 323.95,332.44 331.97,332.96 341.9,334.01 351.14,332.79 358.11,331.91 365.95,328.08 373.97,324.94 380.06,322.5 385.99,323.03 392.96,322.33 400.28,321.63 412.13,321.81 425.02,320.41 434.78,321.28 447.5,320.24 458.83,318.67 469.98,317.45 478.35,317.28 487.93,314.84 496.99,314.84 506.05,316.93 514.94,317.45 524,317.45 530.62,319.37 537.6,316.41 548.92,315.71 562.86,313.79 571.23,313.09 582.03,314.66 592.49,315.19 602.07,316.41 613.75,315.19 624.55,314.66 632.57,314.49 635.01,312.57 636.92,314.14 647.38,316.06 656.44,316.23 668.99,318.32 681.88,321.63 689.2,323.03 694.6,324.77 696.87,327.21 689.2,329.82 686.06,332.26 689.2,334.7 698.96,334.88 713.6,335.4 715.34,335.92 715.34,360.32Z"/>
</g>
<path d="M86.26,304.56H713.6M86.26,252.28H713.6M86.26,200H713.6M86.26,147.72H713.6M86.26,95.44H713.6" stroke="#000" stroke-width="1.15" stroke-dasharray="1.7 3.813" stroke-dashoffset="0.15" fill="none"/>
<path d="M86.26,43.17V356.83M164.68,43.17V356.83M243.1,43.17V356.83M321.51,43.17V356.83M399.93,43.17V356.83M478.35,43.17V356.83M556.76,43.17V356.83M635.18,43.17V356.83M713.6,43.17V356.83" stroke="#000" stroke-width="1.15" stroke-dasharray="1.7 3.813" stroke-dashoffset="2.3" fill="none"/>
<g fill="none" stroke="#0000ff" stroke-width="3.3" stroke-linecap="round" stroke-linejoin="round">
<path d="M423.71,102.59 L422.76,104.38 L421.86,106.18 L420.99,107.98 L420.16,109.78 L419.35,111.59 L418.58,113.39 L417.83,115.2 L417.11,117.01 L416.42,118.82 L415.74,120.64 L415.08,122.45 L414.45,124.27 L413.82,126.09 L413.22,127.91 L412.63,129.73 L412.06,131.55 L411.49,133.37 L410.94,135.19 L410.41,137.02 L409.88,138.84 L409.36,140.67 L408.85,142.49 L408.35,144.32 L407.86,146.14 L407.38,147.97 L406.91,149.8 L406.44,151.63 L405.98,153.46 L405.52,155.29 L405.07,157.12 L404.63,158.95 L404.19,160.78 L403.75,162.61 L403.32,164.44 L402.9,166.27 L402.47,168.11 L402.06,169.94 L401.64,171.77 L401.23,173.6 L400.82,175.44 L400.41,177.27 L400.01,179.1 L399.6,180.94 L399.2,182.77 L398.8,184.61 L398.41,186.44 L398.01,188.27 L397.62,190.11 L397.22,191.94 L396.83,193.78 L396.44,195.61 L396.05,197.44 L395.65,199.28 L395.26,201.11 L394.87,202.95 L394.48,204.78 L394.09,206.62 L393.69,208.45 L393.3,210.28 L392.9,212.12 L392.51,213.95 L392.11,215.79 L391.71,217.62 L391.31,219.45 L390.91,221.29 L390.5,223.12 L390.09,224.95 L389.68,226.79 L389.27,228.62 L388.86,230.45 L388.44,232.28 L388.01,234.12 L387.59,235.95 L387.15,237.78 L386.72,239.61 L386.28,241.44 L385.83,243.27 L385.38,245.1 L384.92,246.93 L384.46,248.76 L383.99,250.59 L383.52,252.42 L383.03,254.24 L382.54,256.07 L382.04,257.9 L381.53,259.72 L381.01,261.55 L380.48,263.37 L379.94,265.2 L379.39,267.02 L378.82,268.84 L378.24,270.66 L377.65,272.48 L377.04,274.3 L376.42,276.12 L375.78,277.93 L375.12,279.75 L374.44,281.56 L373.73,283.37 L373.01,285.18 L372.26,286.99 L371.48,288.8 L370.67,290.6 L369.83,292.4 L368.95,294.2 L368.04,296 L367.08,297.79 L366.08,299.58 L365.03,301.37 L363.92,303.15 L362.76,304.93 L361.52,306.7 L360.22,308.47 L358.83,310.23 L357.35,311.98 L355.77,313.73 L354.07,315.47 L352.25,317.2 L350.27,318.91 L348.14,320.62 L345.81,322.31 L343.27,323.98 L340.48,325.63 L337.41,327.26 L334.01,328.86 L330.22,330.43 L325.99,331.97 L321.24,333.45 L315.89,334.89 L309.83,336.25 L302.97,337.54 L295.21,338.73 L286.44,339.8 L276.6,340.73 L265.69,341.5 L253.82,342.07 L241.19,342.42 L228.14,342.54 L215.09,342.43 L202.44,342.08 L190.53,341.52 L179.59,340.76 L169.71,339.84 L160.9,338.77 L153.09,337.59 L146.2,336.3 L140.12,334.94 L134.74,333.51 L129.97,332.02 L125.72,330.49 L121.92,328.92 L118.5,327.32 L115.42,325.69 L112.62,324.04 L110.07,322.37 L107.74,320.68 L105.59,318.98 L103.62,317.26 L101.79,315.53"/><path d="M380.64,102.59 L379.69,104.38 L378.79,106.18 L377.92,107.98 L377.09,109.78 L376.28,111.59 L375.51,113.39 L374.76,115.2 L374.04,117.01 L373.35,118.82 L372.67,120.64 L372.01,122.45 L371.38,124.27 L370.75,126.09 L370.15,127.91 L369.56,129.73 L368.99,131.55 L368.42,133.37 L367.87,135.19 L367.34,137.02 L366.81,138.84 L366.29,140.67 L365.78,142.49 L365.28,144.32 L364.79,146.14 L364.31,147.97 L363.84,149.8 L363.37,151.63 L362.91,153.46 L362.45,155.29 L362,157.12 L361.56,158.95 L361.12,160.78 L360.68,162.61 L360.25,164.44 L359.83,166.27 L359.4,168.11 L358.99,169.94 L358.57,171.77 L358.16,173.6 L357.75,175.44 L357.34,177.27 L356.94,179.1 L356.53,180.94 L356.13,182.77 L355.73,184.61 L355.34,186.44 L354.94,188.27 L354.55,190.11 L354.15,191.94 L353.76,193.78 L353.37,195.61 L352.98,197.44 L352.58,199.28 L352.19,201.11 L351.8,202.95 L351.41,204.78 L351.02,206.62 L350.62,208.45 L350.23,210.28 L349.83,212.12 L349.44,213.95 L349.04,215.79 L348.64,217.62 L348.24,219.45 L347.84,221.29 L347.43,223.12 L347.02,224.95 L346.61,226.79 L346.2,228.62 L345.79,230.45 L345.37,232.28 L344.94,234.12 L344.52,235.95 L344.08,237.78 L343.65,239.61 L343.21,241.44 L342.76,243.27 L342.31,245.1 L341.85,246.93 L341.39,248.76 L340.92,250.59 L340.45,252.42 L339.96,254.24 L339.47,256.07 L338.97,257.9 L338.46,259.72 L337.94,261.55 L337.41,263.37 L336.87,265.2 L336.32,267.02 L335.75,268.84 L335.17,270.66 L334.58,272.48 L333.97,274.3 L333.35,276.12 L332.71,277.93 L332.05,279.75 L331.37,281.56 L330.66,283.37 L329.94,285.18 L329.19,286.99 L328.41,288.8 L327.6,290.6 L326.76,292.4 L325.88,294.2 L324.97,296 L324.01,297.79 L323.01,299.58 L321.96,301.37 L320.85,303.15 L319.69,304.93 L318.45,306.7 L317.15,308.47 L315.76,310.23 L314.28,311.98 L312.7,313.73 L311,315.47 L309.18,317.2 L307.2,318.91 L305.07,320.62 L302.74,322.31 L300.2,323.98 L297.41,325.63 L294.34,327.26 L290.94,328.86 L287.15,330.43 L282.92,331.97 L278.17,333.45 L272.82,334.89 L266.76,336.25 L259.9,337.54 L252.14,338.73 L243.37,339.8 L233.53,340.73 L222.62,341.5 L210.75,342.07 L198.12,342.42 L185.07,342.54 L172.02,342.43 L159.37,342.08 L147.46,341.52 L136.52,340.76 L126.64,339.84 L117.83,338.77 L110.02,337.59 L103.13,336.3 L97.05,334.94 L91.67,333.51 L86.9,332.02 L86.26,331.8"/><path d="M713.6,331.8 L709.99,330.49 L706.18,328.92 L702.77,327.32 L699.68,325.69 L696.88,324.04 L694.34,322.37 L692,320.68 L689.86,318.98 L687.88,317.26 L686.05,315.53"/><path d="M337.57,102.59 L336.62,104.38 L335.72,106.18 L334.85,107.98 L334.02,109.78 L333.21,111.59 L332.44,113.39 L331.69,115.2 L330.97,117.01 L330.28,118.82 L329.6,120.64 L328.94,122.45 L328.3,124.27 L327.68,126.09 L327.08,127.91 L326.49,129.73 L325.92,131.55 L325.35,133.37 L324.8,135.19 L324.27,137.02 L323.74,138.84 L323.22,140.67 L322.71,142.49 L322.21,144.32 L321.72,146.14 L321.24,147.97 L320.77,149.8 L320.3,151.63 L319.84,153.46 L319.38,155.29 L318.93,157.12 L318.49,158.95 L318.05,160.78 L317.61,162.61 L317.18,164.44 L316.76,166.27 L316.33,168.11 L315.92,169.94 L315.5,171.77 L315.09,173.6 L314.68,175.44 L314.27,177.27 L313.87,179.1 L313.46,180.94 L313.06,182.77 L312.66,184.61 L312.27,186.44 L311.87,188.27 L311.48,190.11 L311.08,191.94 L310.69,193.78 L310.3,195.61 L309.91,197.44 L309.51,199.28 L309.12,201.11 L308.73,202.95 L308.34,204.78 L307.95,206.62 L307.55,208.45 L307.16,210.28 L306.76,212.12 L306.37,213.95 L305.97,215.79 L305.57,217.62 L305.17,219.45 L304.77,221.29 L304.36,223.12 L303.95,224.95 L303.54,226.79 L303.13,228.62 L302.72,230.45 L302.3,232.28 L301.87,234.12 L301.45,235.95 L301.01,237.78 L300.58,239.61 L300.14,241.44 L299.69,243.27 L299.24,245.1 L298.78,246.93 L298.32,248.76 L297.85,250.59 L297.38,252.42 L296.89,254.24 L296.4,256.07 L295.9,257.9 L295.39,259.72 L294.87,261.55 L294.34,263.37 L293.8,265.2 L293.25,267.02 L292.68,268.84 L292.1,270.66 L291.51,272.48 L290.9,274.3 L290.28,276.12 L289.64,277.93 L288.98,279.75 L288.3,281.56 L287.59,283.37 L286.87,285.18 L286.12,286.99 L285.34,288.8 L284.53,290.6 L283.69,292.4 L282.81,294.2 L281.9,296 L280.94,297.79 L279.94,299.58 L278.89,301.37 L277.78,303.15 L276.62,304.93 L275.38,306.7 L274.08,308.47 L272.69,310.23 L271.21,311.98 L269.63,313.73 L267.93,315.47 L266.11,317.2 L264.13,318.91 L262,320.62 L259.67,322.31 L257.13,323.98 L254.34,325.63 L251.27,327.26 L247.87,328.86 L244.08,330.43 L239.85,331.97 L235.1,333.45 L229.75,334.89 L223.69,336.25 L216.83,337.54 L209.07,338.73 L200.3,339.8 L190.46,340.73 L179.55,341.5 L167.68,342.07 L155.05,342.42 L142,342.54 L128.95,342.43 L116.3,342.08 L104.39,341.52 L93.45,340.76 L86.26,340.09"/><path d="M713.6,340.09 L710.9,339.84 L702.09,338.77 L694.29,337.59 L687.4,336.3 L681.32,334.94 L675.94,333.51 L671.17,332.02 L666.92,330.49 L663.11,328.92 L659.7,327.32 L656.61,325.69 L653.81,324.04 L651.27,322.37 L648.93,320.68 L646.79,318.98 L644.81,317.26 L642.98,315.53"/><path d="M294.5,102.59 L293.55,104.38 L292.65,106.18 L291.78,107.98 L290.95,109.78 L290.14,111.59 L289.37,113.39 L288.62,115.2 L287.9,117.01 L287.21,118.82 L286.53,120.64 L285.87,122.45 L285.23,124.27 L284.61,126.09 L284.01,127.91 L283.42,129.73 L282.85,131.55 L282.28,133.37 L281.73,135.19 L281.2,137.02 L280.67,138.84 L280.15,140.67 L279.64,142.49 L279.14,144.32 L278.65,146.14 L278.17,147.97 L277.7,149.8 L277.23,151.63 L276.77,153.46 L276.31,155.29 L275.86,157.12 L275.42,158.95 L274.98,160.78 L274.54,162.61 L274.11,164.44 L273.69,166.27 L273.26,168.11 L272.85,169.94 L272.43,171.77 L272.02,173.6 L271.61,175.44 L271.2,177.27 L270.8,179.1 L270.39,180.94 L269.99,182.77 L269.59,184.61 L269.2,186.44 L268.8,188.27 L268.41,190.11 L268.01,191.94 L267.62,193.78 L267.23,195.61 L266.84,197.44 L266.44,199.28 L266.05,201.11 L265.66,202.95 L265.27,204.78 L264.88,206.62 L264.48,208.45 L264.09,210.28 L263.69,212.12 L263.3,213.95 L262.9,215.79 L262.5,217.62 L262.1,219.45 L261.7,221.29 L261.29,223.12 L260.88,224.95 L260.47,226.79 L260.06,228.62 L259.64,230.45 L259.23,232.28 L258.8,234.12 L258.38,235.95 L257.94,237.78 L257.51,239.61 L257.07,241.44 L256.62,243.27 L256.17,245.1 L255.71,246.93 L255.25,248.76 L254.78,250.59 L254.31,252.42 L253.82,254.24 L253.33,256.07 L252.83,257.9 L252.32,259.72 L251.8,261.55 L251.27,263.37 L250.73,265.2 L250.18,267.02 L249.61,268.84 L249.03,270.66 L248.44,272.48 L247.83,274.3 L247.21,276.12 L246.57,277.93 L245.91,279.75 L245.23,281.56 L244.52,283.37 L243.8,285.18 L243.05,286.99 L242.27,288.8 L241.46,290.6 L240.62,292.4 L239.74,294.2 L238.83,296 L237.87,297.79 L236.87,299.58 L235.82,301.37 L234.71,303.15 L233.55,304.93 L232.31,306.7 L231.01,308.47 L229.62,310.23 L228.14,311.98 L226.56,313.73 L224.86,315.47 L223.03,317.2 L221.06,318.91 L218.93,320.62 L216.6,322.31 L214.06,323.98 L211.27,325.63 L208.2,327.26 L204.8,328.86 L201.01,330.43 L196.78,331.97 L192.03,333.45 L186.68,334.89 L180.62,336.25 L173.76,337.54 L166,338.73 L157.23,339.8 L147.39,340.73 L136.48,341.5 L124.61,342.07 L111.98,342.42 L98.93,342.54 L86.26,342.43"/><path d="M713.6,342.43 L713.22,342.43 L700.57,342.08 L688.66,341.52 L677.71,340.76 L667.83,339.84 L659.02,338.77 L651.22,337.59 L644.33,336.3 L638.25,334.94 L632.87,333.51 L628.1,332.02 L623.85,330.49 L620.04,328.92 L616.63,327.32 L613.54,325.69 L610.74,324.04 L608.19,322.37 L605.86,320.68 L603.72,318.98 L601.74,317.26 L599.91,315.53"/><path d="M251.43,102.59 L250.48,104.38 L249.58,106.18 L248.71,107.98 L247.88,109.78 L247.07,111.59 L246.3,113.39 L245.55,115.2 L244.83,117.01 L244.14,118.82 L243.46,120.64 L242.8,122.45 L242.16,124.27 L241.54,126.09 L240.94,127.91 L240.35,129.73 L239.78,131.55 L239.21,133.37 L238.66,135.19 L238.13,137.02 L237.6,138.84 L237.08,140.67 L236.57,142.49 L236.07,144.32 L235.58,146.14 L235.1,147.97 L234.63,149.8 L234.16,151.63 L233.7,153.46 L233.24,155.29 L232.79,157.12 L232.35,158.95 L231.91,160.78 L231.47,162.61 L231.04,164.44 L230.62,166.27 L230.19,168.11 L229.78,169.94 L229.36,171.77 L228.95,173.6 L228.54,175.44 L228.13,177.27 L227.73,179.1 L227.32,180.94 L226.92,182.77 L226.52,184.61 L226.13,186.44 L225.73,188.27 L225.34,190.11 L224.94,191.94 L224.55,193.78 L224.16,195.61 L223.77,197.44 L223.37,199.28 L222.98,201.11 L222.59,202.95 L222.2,204.78 L221.81,206.62 L221.41,208.45 L221.02,210.28 L220.62,212.12 L220.23,213.95 L219.83,215.79 L219.43,217.62 L219.03,219.45 L218.63,221.29 L218.22,223.12 L217.81,224.95 L217.4,226.79 L216.99,228.62 L216.57,230.45 L216.16,232.28 L215.73,234.12 L215.31,235.95 L214.87,237.78 L214.44,239.61 L214,241.44 L213.55,243.27 L213.1,245.1 L212.64,246.93 L212.18,248.76 L211.71,250.59 L211.24,252.42 L210.75,254.24 L210.26,256.07 L209.76,257.9 L209.25,259.72 L208.73,261.55 L208.2,263.37 L207.66,265.2 L207.11,267.02 L206.54,268.84 L205.96,270.66 L205.37,272.48 L204.76,274.3 L204.14,276.12 L203.5,277.93 L202.84,279.75 L202.16,281.56 L201.45,283.37 L200.73,285.18 L199.98,286.99 L199.2,288.8 L198.39,290.6 L197.55,292.4 L196.67,294.2 L195.76,296 L194.8,297.79 L193.8,299.58 L192.75,301.37 L191.64,303.15 L190.48,304.93 L189.24,306.7 L187.94,308.47 L186.55,310.23 L185.07,311.98 L183.49,313.73 L181.79,315.47 L179.96,317.2 L177.99,318.91 L175.86,320.62 L173.53,322.31 L170.99,323.98 L168.2,325.63 L165.13,327.26 L161.73,328.86 L157.94,330.43 L153.71,331.97 L148.96,333.45 L143.61,334.89 L137.55,336.25 L130.69,337.54 L122.93,338.73 L114.16,339.8 L104.32,340.73 L93.41,341.5 L86.26,341.84"/><path d="M713.6,341.84 L708.87,342.07 L696.25,342.42 L683.2,342.54 L670.15,342.43 L657.5,342.08 L645.59,341.52 L634.64,340.76 L624.76,339.84 L615.95,338.77 L608.15,337.59 L601.26,336.3 L595.18,334.94 L589.8,333.51 L585.03,332.02 L580.78,330.49 L576.97,328.92 L573.56,327.32 L570.47,325.69 L567.67,324.04 L565.12,322.37 L562.79,320.68 L560.65,318.98 L558.67,317.26 L556.84,315.53"/><path d="M208.36,102.59 L207.41,104.38 L206.51,106.18 L205.64,107.98 L204.81,109.78 L204,111.59 L203.23,113.39 L202.48,115.2 L201.76,117.01 L201.07,118.82 L200.39,120.64 L199.73,122.45 L199.09,124.27 L198.47,126.09 L197.87,127.91 L197.28,129.73 L196.71,131.55 L196.14,133.37 L195.59,135.19 L195.06,137.02 L194.53,138.84 L194.01,140.67 L193.5,142.49 L193,144.32 L192.51,146.14 L192.03,147.97 L191.56,149.8 L191.09,151.63 L190.63,153.46 L190.17,155.29 L189.72,157.12 L189.28,158.95 L188.84,160.78 L188.4,162.61 L187.97,164.44 L187.55,166.27 L187.12,168.11 L186.71,169.94 L186.29,171.77 L185.88,173.6 L185.47,175.44 L185.06,177.27 L184.66,179.1 L184.25,180.94 L183.85,182.77 L183.45,184.61 L183.06,186.44 L182.66,188.27 L182.27,190.11 L181.87,191.94 L181.48,193.78 L181.09,195.61 L180.7,197.44 L180.3,199.28 L179.91,201.11 L179.52,202.95 L179.13,204.78 L178.74,206.62 L178.34,208.45 L177.95,210.28 L177.55,212.12 L177.16,213.95 L176.76,215.79 L176.36,217.62 L175.96,219.45 L175.56,221.29 L175.15,223.12 L174.74,224.95 L174.33,226.79 L173.92,228.62 L173.5,230.45 L173.09,232.28 L172.66,234.12 L172.23,235.95 L171.8,237.78 L171.37,239.61 L170.93,241.44 L170.48,243.27 L170.03,245.1 L169.57,246.93 L169.11,248.76 L168.64,250.59 L168.17,252.42 L167.68,254.24 L167.19,256.07 L166.69,257.9 L166.18,259.72 L165.66,261.55 L165.13,263.37 L164.59,265.2 L164.04,267.02 L163.47,268.84 L162.89,270.66 L162.3,272.48 L161.69,274.3 L161.07,276.12 L160.43,277.93 L159.77,279.75 L159.09,281.56 L158.38,283.37 L157.66,285.18 L156.91,286.99 L156.13,288.8 L155.32,290.6 L154.48,292.4 L153.6,294.2 L152.69,296 L151.73,297.79 L150.73,299.58 L149.68,301.37 L148.57,303.15 L147.41,304.93 L146.17,306.7 L144.87,308.47 L143.48,310.23 L142,311.98 L140.42,313.73 L138.72,315.47 L136.89,317.2 L134.92,318.91 L132.79,320.62 L130.46,322.31 L127.92,323.98 L125.13,325.63 L122.06,327.26 L118.66,328.86 L114.87,330.43 L110.64,331.97 L105.89,333.45 L100.54,334.89 L94.48,336.25 L87.62,337.54 L86.26,337.75"/><path d="M713.6,337.75 L707.19,338.73 L698.42,339.8 L688.58,340.73 L677.68,341.5 L665.8,342.07 L653.18,342.42 L640.13,342.54 L627.08,342.43 L614.43,342.08 L602.52,341.52 L591.57,340.76 L581.69,339.84 L572.88,338.77 L565.08,337.59 L558.19,336.3 L552.11,334.94 L546.73,333.51 L541.96,332.02 L537.71,330.49 L533.9,328.92 L530.49,327.32 L527.4,325.69 L524.6,324.04 L522.05,322.37 L519.72,320.68 L517.58,318.98 L515.6,317.26 L513.77,315.53"/><path d="M165.29,102.59 L164.34,104.38 L163.44,106.18 L162.57,107.98 L161.74,109.78 L160.93,111.59 L160.16,113.39 L159.41,115.2 L158.69,117.01 L158,118.82 L157.32,120.64 L156.66,122.45 L156.02,124.27 L155.4,126.09 L154.8,127.91 L154.21,129.73 L153.64,131.55 L153.07,133.37 L152.52,135.19 L151.99,137.02 L151.46,138.84 L150.94,140.67 L150.43,142.49 L149.93,144.32 L149.44,146.14 L148.96,147.97 L148.49,149.8 L148.02,151.63 L147.56,153.46 L147.1,155.29 L146.65,157.12 L146.21,158.95 L145.77,160.78 L145.33,162.61 L144.9,164.44 L144.48,166.27 L144.05,168.11 L143.64,169.94 L143.22,171.77 L142.81,173.6 L142.4,175.44 L141.99,177.27 L141.59,179.1 L141.18,180.94 L140.78,182.77 L140.38,184.61 L139.99,186.44 L139.59,188.27 L139.2,190.11 L138.8,191.94 L138.41,193.78 L138.02,195.61 L137.63,197.44 L137.23,199.28 L136.84,201.11 L136.45,202.95 L136.06,204.78 L135.67,206.62 L135.27,208.45 L134.88,210.28 L134.48,212.12 L134.09,213.95 L133.69,215.79 L133.29,217.62 L132.89,219.45 L132.49,221.29 L132.08,223.12 L131.67,224.95 L131.26,226.79 L130.85,228.62 L130.43,230.45 L130.02,232.28 L129.59,234.12 L129.16,235.95 L128.73,237.78 L128.3,239.61 L127.86,241.44 L127.41,243.27 L126.96,245.1 L126.5,246.93 L126.04,248.76 L125.57,250.59 L125.1,252.42 L124.61,254.24 L124.12,256.07 L123.62,257.9 L123.11,259.72 L122.59,261.55 L122.06,263.37 L121.52,265.2 L120.97,267.02 L120.4,268.84 L119.82,270.66 L119.23,272.48 L118.62,274.3 L118,276.12 L117.36,277.93 L116.7,279.75 L116.02,281.56 L115.31,283.37 L114.59,285.18 L113.84,286.99 L113.06,288.8 L112.25,290.6 L111.41,292.4 L110.53,294.2 L109.62,296 L108.66,297.79 L107.66,299.58 L106.61,301.37 L105.5,303.15 L104.34,304.93 L103.1,306.7 L101.8,308.47 L100.41,310.23 L98.93,311.98 L97.35,313.73 L95.65,315.47 L93.82,317.2 L91.85,318.91 L89.72,320.62 L87.39,322.31 L86.26,323.05"/><path d="M713.6,323.05 L712.19,323.98 L709.4,325.63 L706.33,327.26 L702.92,328.86 L699.14,330.43 L694.91,331.97 L690.16,333.45 L684.8,334.89 L678.75,336.25 L671.89,337.54 L664.12,338.73 L655.35,339.8 L645.51,340.73 L634.61,341.5 L622.73,342.07 L610.11,342.42 L597.06,342.54 L584.01,342.43 L571.36,342.08 L559.45,341.52 L548.5,340.76 L538.62,339.84 L529.81,338.77 L522.01,337.59 L515.12,336.3 L509.04,334.94 L503.66,333.51 L498.88,332.02 L494.64,330.49 L490.83,328.92 L487.42,327.32 L484.33,325.69 L481.53,324.04 L478.98,322.37 L476.65,320.68 L474.51,318.98 L472.53,317.26 L470.7,315.53"/><path d="M122.22,102.59 L121.27,104.38 L120.37,106.18 L119.5,107.98 L118.67,109.78 L117.86,111.59 L117.09,113.39 L116.34,115.2 L115.62,117.01 L114.93,118.82 L114.25,120.64 L113.59,122.45 L112.95,124.27 L112.33,126.09 L111.73,127.91 L111.14,129.73 L110.57,131.55 L110,133.37 L109.45,135.19 L108.92,137.02 L108.39,138.84 L107.87,140.67 L107.36,142.49 L106.86,144.32 L106.37,146.14 L105.89,147.97 L105.42,149.8 L104.95,151.63 L104.49,153.46 L104.03,155.29 L103.58,157.12 L103.14,158.95 L102.7,160.78 L102.26,162.61 L101.83,164.44 L101.41,166.27 L100.98,168.11 L100.57,169.94 L100.15,171.77 L99.74,173.6 L99.33,175.44 L98.92,177.27 L98.52,179.1 L98.11,180.94 L97.71,182.77 L97.31,184.61 L96.92,186.44 L96.52,188.27 L96.13,190.11 L95.73,191.94 L95.34,193.78 L94.95,195.61 L94.56,197.44 L94.16,199.28 L93.77,201.11 L93.38,202.95 L92.99,204.78 L92.6,206.62 L92.2,208.45 L91.81,210.28 L91.41,212.12 L91.02,213.95 L90.62,215.79 L90.22,217.62 L89.82,219.45 L89.42,221.29 L89.01,223.12 L88.6,224.95 L88.19,226.79 L87.78,228.62 L87.36,230.45 L86.94,232.28 L86.52,234.12 L86.26,235.23"/><path d="M713.6,235.23 L713.43,235.95 L713,237.78 L712.56,239.61 L712.12,241.44 L711.68,243.27 L711.23,245.1 L710.77,246.93 L710.31,248.76 L709.84,250.59 L709.36,252.42 L708.88,254.24 L708.38,256.07 L707.88,257.9 L707.37,259.72 L706.86,261.55 L706.33,263.37 L705.79,265.2 L705.23,267.02 L704.67,268.84 L704.09,270.66 L703.5,272.48 L702.89,274.3 L702.27,276.12 L701.62,277.93 L700.96,279.75 L700.28,281.56 L699.58,283.37 L698.85,285.18 L698.1,286.99 L697.32,288.8 L696.51,290.6 L695.67,292.4 L694.8,294.2 L693.88,296 L692.93,297.79 L691.93,299.58 L690.87,301.37 L689.77,303.15 L688.6,304.93 L687.37,306.7 L686.06,308.47 L684.67,310.23 L683.19,311.98 L681.61,313.73 L679.92,315.47 L678.09,317.2 L676.12,318.91 L673.98,320.62 L671.66,322.31 L669.12,323.98 L666.33,325.63 L663.26,327.26 L659.85,328.86 L656.07,330.43 L651.84,331.97 L647.09,333.45 L641.73,334.89 L635.68,336.25 L628.82,337.54 L621.05,338.73 L612.28,339.8 L602.44,340.73 L591.54,341.5 L579.66,342.07 L567.04,342.42 L553.99,342.54 L540.94,342.43 L528.29,342.08 L516.38,341.52 L505.43,340.76 L495.55,339.84 L486.74,338.77 L478.94,337.59 L472.05,336.3 L465.97,334.94 L460.59,333.51 L455.81,332.02 L451.56,330.49 L447.76,328.92 L444.35,327.32 L441.26,325.69 L438.46,324.04 L435.91,322.37 L433.58,320.68 L431.44,318.98 L429.46,317.26 L427.63,315.53"/><path d="M706.49,102.59 L705.54,104.38 L704.63,106.18 L703.76,107.98 L702.93,109.78 L702.13,111.59 L701.36,113.39 L700.61,115.2 L699.89,117.01 L699.19,118.82 L698.51,120.64 L697.86,122.45 L697.22,124.27 L696.6,126.09 L696,127.91 L695.41,129.73 L694.83,131.55 L694.27,133.37 L693.72,135.19 L693.18,137.02 L692.65,138.84 L692.14,140.67 L691.63,142.49 L691.13,144.32 L690.64,146.14 L690.16,147.97 L689.68,149.8 L689.21,151.63 L688.75,153.46 L688.3,155.29 L687.85,157.12 L687.4,158.95 L686.96,160.78 L686.53,162.61 L686.1,164.44 L685.67,166.27 L685.25,168.11 L684.83,169.94 L684.42,171.77 L684,173.6 L683.59,175.44 L683.19,177.27 L682.78,179.1 L682.38,180.94 L681.98,182.77 L681.58,184.61 L681.18,186.44 L680.79,188.27 L680.39,190.11 L680,191.94 L679.61,193.78 L679.21,195.61 L678.82,197.44 L678.43,199.28 L678.04,201.11 L677.65,202.95 L677.25,204.78 L676.86,206.62 L676.47,208.45 L676.07,210.28 L675.68,212.12 L675.28,213.95 L674.89,215.79 L674.49,217.62 L674.09,219.45 L673.68,221.29 L673.28,223.12 L672.87,224.95 L672.46,226.79 L672.05,228.62 L671.63,230.45 L671.21,232.28 L670.79,234.12 L670.36,235.95 L669.93,237.78 L669.49,239.61 L669.05,241.44 L668.61,243.27 L668.16,245.1 L667.7,246.93 L667.24,248.76 L666.77,250.59 L666.29,252.42 L665.81,254.24 L665.31,256.07 L664.81,257.9 L664.3,259.72 L663.79,261.55 L663.26,263.37 L662.71,265.2 L662.16,267.02 L661.6,268.84 L661.02,270.66 L660.43,272.48 L659.82,274.3 L659.2,276.12 L658.55,277.93 L657.89,279.75 L657.21,281.56 L656.51,283.37 L655.78,285.18 L655.03,286.99 L654.25,288.8 L653.44,290.6 L652.6,292.4 L651.73,294.2 L650.81,296 L649.86,297.79 L648.86,299.58 L647.8,301.37 L646.7,303.15 L645.53,304.93 L644.3,306.7 L642.99,308.47 L641.6,310.23 L640.12,311.98 L638.54,313.73 L636.85,315.47 L635.02,317.2 L633.05,318.91 L630.91,320.62 L628.59,322.31 L626.05,323.98 L623.26,325.63 L620.19,327.26 L616.78,328.86 L613,330.43 L608.77,331.97 L604.02,333.45 L598.66,334.89 L592.61,336.25 L585.75,337.54 L577.98,338.73 L569.21,339.8 L559.37,340.73 L548.47,341.5 L536.59,342.07 L523.97,342.42 L510.92,342.54 L497.87,342.43 L485.22,342.08 L473.31,341.52 L462.36,340.76 L452.48,339.84 L443.67,338.77 L435.87,337.59 L428.98,336.3 L422.9,334.94 L417.52,333.51 L412.74,332.02 L408.49,330.49 L404.69,328.92 L401.28,327.32 L398.19,325.69 L395.39,324.04 L392.84,322.37 L390.51,320.68 L388.37,318.98 L386.39,317.26 L384.56,315.53"/><path d="M663.42,102.59 L662.47,104.38 L661.56,106.18 L660.69,107.98 L659.86,109.78 L659.06,111.59 L658.29,113.39 L657.54,115.2 L656.82,117.01 L656.12,118.82 L655.44,120.64 L654.79,122.45 L654.15,124.27 L653.53,126.09 L652.93,127.91 L652.34,129.73 L651.76,131.55 L651.2,133.37 L650.65,135.19 L650.11,137.02 L649.58,138.84 L649.07,140.67 L648.56,142.49 L648.06,144.32 L647.57,146.14 L647.09,147.97 L646.61,149.8 L646.14,151.63 L645.68,153.46 L645.23,155.29 L644.78,157.12 L644.33,158.95 L643.89,160.78 L643.46,162.61 L643.03,164.44 L642.6,166.27 L642.18,168.11 L641.76,169.94 L641.35,171.77 L640.93,173.6 L640.52,175.44 L640.12,177.27 L639.71,179.1 L639.31,180.94 L638.91,182.77 L638.51,184.61 L638.11,186.44 L637.72,188.27 L637.32,190.11 L636.93,191.94 L636.54,193.78 L636.14,195.61 L635.75,197.44 L635.36,199.28 L634.97,201.11 L634.58,202.95 L634.18,204.78 L633.79,206.62 L633.4,208.45 L633,210.28 L632.61,212.12 L632.21,213.95 L631.82,215.79 L631.42,217.62 L631.02,219.45 L630.61,221.29 L630.21,223.12 L629.8,224.95 L629.39,226.79 L628.98,228.62 L628.56,230.45 L628.14,232.28 L627.72,234.12 L627.29,235.95 L626.86,237.78 L626.42,239.61 L625.98,241.44 L625.54,243.27 L625.09,245.1 L624.63,246.93 L624.17,248.76 L623.7,250.59 L623.22,252.42 L622.74,254.24 L622.24,256.07 L621.74,257.9 L621.23,259.72 L620.71,261.55 L620.19,263.37 L619.64,265.2 L619.09,267.02 L618.53,268.84 L617.95,270.66 L617.36,272.48 L616.75,274.3 L616.13,276.12 L615.48,277.93 L614.82,279.75 L614.14,281.56 L613.44,283.37 L612.71,285.18 L611.96,286.99 L611.18,288.8 L610.37,290.6 L609.53,292.4 L608.66,294.2 L607.74,296 L606.79,297.79 L605.79,299.58 L604.73,301.37 L603.63,303.15 L602.46,304.93 L601.23,306.7 L599.92,308.47 L598.53,310.23 L597.05,311.98 L595.47,313.73 L593.78,315.47 L591.95,317.2 L589.98,318.91 L587.84,320.62 L585.52,322.31 L582.98,323.98 L580.19,325.63 L577.12,327.26 L573.71,328.86 L569.93,330.43 L565.7,331.97 L560.94,333.45 L555.59,334.89 L549.54,336.25 L542.68,337.54 L534.91,338.73 L526.14,339.8 L516.3,340.73 L505.4,341.5 L493.52,342.07 L480.89,342.42 L467.85,342.54 L454.8,342.43 L442.15,342.08 L430.24,341.52 L419.29,340.76 L409.41,339.84 L400.6,338.77 L392.8,337.59 L385.91,336.3 L379.83,334.94 L374.45,333.51 L369.67,332.02 L365.42,330.49 L361.62,328.92 L358.21,327.32 L355.12,325.69 L352.32,324.04 L349.77,322.37 L347.44,320.68 L345.3,318.98 L343.32,317.26 L341.49,315.53"/><path d="M620.35,102.59 L619.4,104.38 L618.49,106.18 L617.62,107.98 L616.79,109.78 L615.99,111.59 L615.22,113.39 L614.47,115.2 L613.75,117.01 L613.05,118.82 L612.37,120.64 L611.72,122.45 L611.08,124.27 L610.46,126.09 L609.86,127.91 L609.27,129.73 L608.69,131.55 L608.13,133.37 L607.58,135.19 L607.04,137.02 L606.51,138.84 L606,140.67 L605.49,142.49 L604.99,144.32 L604.5,146.14 L604.02,147.97 L603.54,149.8 L603.07,151.63 L602.61,153.46 L602.16,155.29 L601.71,157.12 L601.26,158.95 L600.82,160.78 L600.39,162.61 L599.96,164.44 L599.53,166.27 L599.11,168.11 L598.69,169.94 L598.28,171.77 L597.86,173.6 L597.45,175.44 L597.05,177.27 L596.64,179.1 L596.24,180.94 L595.84,182.77 L595.44,184.61 L595.04,186.44 L594.65,188.27 L594.25,190.11 L593.86,191.94 L593.47,193.78 L593.07,195.61 L592.68,197.44 L592.29,199.28 L591.9,201.11 L591.51,202.95 L591.11,204.78 L590.72,206.62 L590.33,208.45 L589.93,210.28 L589.54,212.12 L589.14,213.95 L588.75,215.79 L588.35,217.62 L587.95,219.45 L587.54,221.29 L587.14,223.12 L586.73,224.95 L586.32,226.79 L585.91,228.62 L585.49,230.45 L585.07,232.28 L584.65,234.12 L584.22,235.95 L583.79,237.78 L583.35,239.61 L582.91,241.44 L582.47,243.27 L582.02,245.1 L581.56,246.93 L581.1,248.76 L580.63,250.59 L580.15,252.42 L579.67,254.24 L579.17,256.07 L578.67,257.9 L578.16,259.72 L577.64,261.55 L577.12,263.37 L576.57,265.2 L576.02,267.02 L575.46,268.84 L574.88,270.66 L574.29,272.48 L573.68,274.3 L573.06,276.12 L572.41,277.93 L571.75,279.75 L571.07,281.56 L570.37,283.37 L569.64,285.18 L568.89,286.99 L568.11,288.8 L567.3,290.6 L566.46,292.4 L565.59,294.2 L564.67,296 L563.72,297.79 L562.72,299.58 L561.66,301.37 L560.56,303.15 L559.39,304.93 L558.16,306.7 L556.85,308.47 L555.46,310.23 L553.98,311.98 L552.4,313.73 L550.71,315.47 L548.88,317.2 L546.91,318.91 L544.77,320.62 L542.45,322.31 L539.91,323.98 L537.12,325.63 L534.05,327.26 L530.64,328.86 L526.86,330.43 L522.63,331.97 L517.87,333.45 L512.52,334.89 L506.47,336.25 L499.61,337.54 L491.84,338.73 L483.07,339.8 L473.23,340.73 L462.33,341.5 L450.45,342.07 L437.82,342.42 L424.78,342.54 L411.73,342.43 L399.07,342.08 L387.17,341.52 L376.22,340.76 L366.34,339.84 L357.53,338.77 L349.73,337.59 L342.84,336.3 L336.76,334.94 L331.38,333.51 L326.6,332.02 L322.35,330.49 L318.55,328.92 L315.14,327.32 L312.05,325.69 L309.25,324.04 L306.7,322.37 L304.37,320.68 L302.23,318.98 L300.25,317.26 L298.42,315.53"/><path d="M577.28,102.59 L576.33,104.38 L575.42,106.18 L574.55,107.98 L573.72,109.78 L572.92,111.59 L572.15,113.39 L571.4,115.2 L570.68,117.01 L569.98,118.82 L569.3,120.64 L568.65,122.45 L568.01,124.27 L567.39,126.09 L566.79,127.91 L566.2,129.73 L565.62,131.55 L565.06,133.37 L564.51,135.19 L563.97,137.02 L563.44,138.84 L562.93,140.67 L562.42,142.49 L561.92,144.32 L561.43,146.14 L560.95,147.97 L560.47,149.8 L560,151.63 L559.54,153.46 L559.09,155.29 L558.64,157.12 L558.19,158.95 L557.75,160.78 L557.32,162.61 L556.89,164.44 L556.46,166.27 L556.04,168.11 L555.62,169.94 L555.21,171.77 L554.79,173.6 L554.38,175.44 L553.98,177.27 L553.57,179.1 L553.17,180.94 L552.77,182.77 L552.37,184.61 L551.97,186.44 L551.58,188.27 L551.18,190.11 L550.79,191.94 L550.39,193.78 L550,195.61 L549.61,197.44 L549.22,199.28 L548.83,201.11 L548.44,202.95 L548.04,204.78 L547.65,206.62 L547.26,208.45 L546.86,210.28 L546.47,212.12 L546.07,213.95 L545.68,215.79 L545.28,217.62 L544.88,219.45 L544.47,221.29 L544.07,223.12 L543.66,224.95 L543.25,226.79 L542.84,228.62 L542.42,230.45 L542,232.28 L541.58,234.12 L541.15,235.95 L540.72,237.78 L540.28,239.61 L539.84,241.44 L539.4,243.27 L538.95,245.1 L538.49,246.93 L538.03,248.76 L537.56,250.59 L537.08,252.42 L536.6,254.24 L536.1,256.07 L535.6,257.9 L535.09,259.72 L534.57,261.55 L534.05,263.37 L533.5,265.2 L532.95,267.02 L532.39,268.84 L531.81,270.66 L531.22,272.48 L530.61,274.3 L529.99,276.12 L529.34,277.93 L528.68,279.75 L528,281.56 L527.3,283.37 L526.57,285.18 L525.82,286.99 L525.04,288.8 L524.23,290.6 L523.39,292.4 L522.52,294.2 L521.6,296 L520.65,297.79 L519.65,299.58 L518.59,301.37 L517.49,303.15 L516.32,304.93 L515.09,306.7 L513.78,308.47 L512.39,310.23 L510.91,311.98 L509.33,313.73 L507.64,315.47 L505.81,317.2 L503.84,318.91 L501.7,320.62 L499.38,322.31 L496.84,323.98 L494.05,325.63 L490.98,327.26 L487.57,328.86 L483.79,330.43 L479.56,331.97 L474.8,333.45 L469.45,334.89 L463.4,336.25 L456.54,337.54 L448.77,338.73 L440,339.8 L430.16,340.73 L419.26,341.5 L407.38,342.07 L394.75,342.42 L381.71,342.54 L368.66,342.43 L356,342.08 L344.1,341.52 L333.15,340.76 L323.27,339.84 L314.46,338.77 L306.66,337.59 L299.77,336.3 L293.69,334.94 L288.31,333.51 L283.53,332.02 L279.28,330.49 L275.48,328.92 L272.07,327.32 L268.98,325.69 L266.18,324.04 L263.63,322.37 L261.3,320.68 L259.16,318.98 L257.18,317.26 L255.35,315.53"/><path d="M534.21,102.59 L533.26,104.38 L532.35,106.18 L531.48,107.98 L530.65,109.78 L529.85,111.59 L529.08,113.39 L528.33,115.2 L527.61,117.01 L526.91,118.82 L526.23,120.64 L525.58,122.45 L524.94,124.27 L524.32,126.09 L523.72,127.91 L523.13,129.73 L522.55,131.55 L521.99,133.37 L521.44,135.19 L520.9,137.02 L520.37,138.84 L519.86,140.67 L519.35,142.49 L518.85,144.32 L518.36,146.14 L517.88,147.97 L517.4,149.8 L516.93,151.63 L516.47,153.46 L516.02,155.29 L515.57,157.12 L515.12,158.95 L514.68,160.78 L514.25,162.61 L513.82,164.44 L513.39,166.27 L512.97,168.11 L512.55,169.94 L512.14,171.77 L511.72,173.6 L511.31,175.44 L510.91,177.27 L510.5,179.1 L510.1,180.94 L509.7,182.77 L509.3,184.61 L508.9,186.44 L508.51,188.27 L508.11,190.11 L507.72,191.94 L507.32,193.78 L506.93,195.61 L506.54,197.44 L506.15,199.28 L505.76,201.11 L505.37,202.95 L504.97,204.78 L504.58,206.62 L504.19,208.45 L503.79,210.28 L503.4,212.12 L503,213.95 L502.61,215.79 L502.21,217.62 L501.81,219.45 L501.4,221.29 L501,223.12 L500.59,224.95 L500.18,226.79 L499.77,228.62 L499.35,230.45 L498.93,232.28 L498.51,234.12 L498.08,235.95 L497.65,237.78 L497.21,239.61 L496.77,241.44 L496.33,243.27 L495.88,245.1 L495.42,246.93 L494.96,248.76 L494.49,250.59 L494.01,252.42 L493.53,254.24 L493.03,256.07 L492.53,257.9 L492.02,259.72 L491.5,261.55 L490.98,263.37 L490.43,265.2 L489.88,267.02 L489.32,268.84 L488.74,270.66 L488.15,272.48 L487.54,274.3 L486.92,276.12 L486.27,277.93 L485.61,279.75 L484.93,281.56 L484.23,283.37 L483.5,285.18 L482.75,286.99 L481.97,288.8 L481.16,290.6 L480.32,292.4 L479.45,294.2 L478.53,296 L477.58,297.79 L476.58,299.58 L475.52,301.37 L474.42,303.15 L473.25,304.93 L472.02,306.7 L470.71,308.47 L469.32,310.23 L467.84,311.98 L466.26,313.73 L464.57,315.47 L462.74,317.2 L460.77,318.91 L458.63,320.62 L456.31,322.31 L453.77,323.98 L450.98,325.63 L447.91,327.26 L444.5,328.86 L440.72,330.43 L436.49,331.97 L431.73,333.45 L426.38,334.89 L420.33,336.25 L413.47,337.54 L405.7,338.73 L396.93,339.8 L387.09,340.73 L376.19,341.5 L364.31,342.07 L351.68,342.42 L338.64,342.54 L325.59,342.43 L312.93,342.08 L301.03,341.52 L290.08,340.76 L280.2,339.84 L271.39,338.77 L263.59,337.59 L256.7,336.3 L250.62,334.94 L245.24,333.51 L240.46,332.02 L236.21,330.49 L232.41,328.92 L229,327.32 L225.91,325.69 L223.11,324.04 L220.56,322.37 L218.23,320.68 L216.09,318.98 L214.11,317.26 L212.28,315.53"/><path d="M491.14,102.59 L490.19,104.38 L489.28,106.18 L488.41,107.98 L487.58,109.78 L486.78,111.59 L486.01,113.39 L485.26,115.2 L484.54,117.01 L483.84,118.82 L483.16,120.64 L482.51,122.45 L481.87,124.27 L481.25,126.09 L480.64,127.91 L480.06,129.73 L479.48,131.55 L478.92,133.37 L478.37,135.19 L477.83,137.02 L477.3,138.84 L476.79,140.67 L476.28,142.49 L475.78,144.32 L475.29,146.14 L474.81,147.97 L474.33,149.8 L473.86,151.63 L473.4,153.46 L472.95,155.29 L472.5,157.12 L472.05,158.95 L471.61,160.78 L471.18,162.61 L470.75,164.44 L470.32,166.27 L469.9,168.11 L469.48,169.94 L469.06,171.77 L468.65,173.6 L468.24,175.44 L467.84,177.27 L467.43,179.1 L467.03,180.94 L466.63,182.77 L466.23,184.61 L465.83,186.44 L465.44,188.27 L465.04,190.11 L464.65,191.94 L464.25,193.78 L463.86,195.61 L463.47,197.44 L463.08,199.28 L462.69,201.11 L462.3,202.95 L461.9,204.78 L461.51,206.62 L461.12,208.45 L460.72,210.28 L460.33,212.12 L459.93,213.95 L459.54,215.79 L459.14,217.62 L458.73,219.45 L458.33,221.29 L457.93,223.12 L457.52,224.95 L457.11,226.79 L456.7,228.62 L456.28,230.45 L455.86,232.28 L455.44,234.12 L455.01,235.95 L454.58,237.78 L454.14,239.61 L453.7,241.44 L453.26,243.27 L452.81,245.1 L452.35,246.93 L451.89,248.76 L451.42,250.59 L450.94,252.42 L450.46,254.24 L449.96,256.07 L449.46,257.9 L448.95,259.72 L448.43,261.55 L447.9,263.37 L447.36,265.2 L446.81,267.02 L446.25,268.84 L445.67,270.66 L445.08,272.48 L444.47,274.3 L443.85,276.12 L443.2,277.93 L442.54,279.75 L441.86,281.56 L441.16,283.37 L440.43,285.18 L439.68,286.99 L438.9,288.8 L438.09,290.6 L437.25,292.4 L436.38,294.2 L435.46,296 L434.51,297.79 L433.51,299.58 L432.45,301.37 L431.35,303.15 L430.18,304.93 L428.95,306.7 L427.64,308.47 L426.25,310.23 L424.77,311.98 L423.19,313.73 L421.5,315.47 L419.67,317.2 L417.7,318.91 L415.56,320.62 L413.24,322.31 L410.7,323.98 L407.91,325.63 L404.84,327.26 L401.43,328.86 L397.65,330.43 L393.41,331.97 L388.66,333.45 L383.31,334.89 L377.26,336.25 L370.4,337.54 L362.63,338.73 L353.86,339.8 L344.02,340.73 L333.12,341.5 L321.24,342.07 L308.61,342.42 L295.57,342.54 L282.52,342.43 L269.86,342.08 L257.96,341.52 L247.01,340.76 L237.13,339.84 L228.32,338.77 L220.52,337.59 L213.63,336.3 L207.55,334.94 L202.17,333.51 L197.39,332.02 L193.14,330.49 L189.34,328.92 L185.93,327.32 L182.84,325.69 L180.04,324.04 L177.49,322.37 L175.16,320.68 L173.02,318.98 L171.04,317.26 L169.21,315.53"/>
</g>
<rect x="80" y="40" width="640" height="319.75" fill="none" stroke="#777" stroke-width="2"/>
<g class="tt"><text transform="translate(175.46,31.75) scale(1,1.07)">2014-06-03</text><text transform="translate(267.87,31.75) scale(1,1.07)">Version:</text><text transform="translate(328.91,31.75) scale(1,1.07)">5.00</text><text transform="translate(366.88,31.75) scale(1,1.07)">Standard</text><text transform="translate(446.65,31.75) scale(1,1.07)">Nighttime</text><text transform="translate(517.89,31.75) scale(1,1.07)">Orbit</text><text transform="translate(557.2,31.75) scale(1,1.07)">Locations</text></g>
<text transform="translate(74.5,361.13) scale(1,1.07)" text-anchor="end">-90</text>
<text transform="translate(74.5,308.86) scale(1,1.07)" text-anchor="end">-60</text>
<text transform="translate(74.5,256.58) scale(1,1.07)" text-anchor="end">-30</text>
<text transform="translate(74.5,204.3) scale(1,1.07)" text-anchor="end">0</text>
<text transform="translate(74.5,152.02) scale(1,1.07)" text-anchor="end">30</text>
<text transform="translate(74.5,99.74) scale(1,1.07)" text-anchor="end">60</text>
<text transform="translate(74.5,47.47) scale(1,1.07)" text-anchor="end">90</text>
<text transform="translate(86.26,368.6) scale(1,1.07)" text-anchor="middle">-180</text>
<text transform="translate(164.68,368.6) scale(1,1.07)" text-anchor="middle">-135</text>
<text transform="translate(243.1,368.6) scale(1,1.07)" text-anchor="middle">-90</text>
<text transform="translate(321.51,368.6) scale(1,1.07)" text-anchor="middle">-45</text>
<text transform="translate(399.93,368.6) scale(1,1.07)" text-anchor="middle">0</text>
<text transform="translate(478.35,368.6) scale(1,1.07)" text-anchor="middle">45</text>
<text transform="translate(556.76,368.6) scale(1,1.07)" text-anchor="middle">90</text>
<text transform="translate(635.18,368.6) scale(1,1.07)" text-anchor="middle">135</text>
<text transform="translate(713.6,368.6) scale(1,1.07)" text-anchor="middle">180</text>
</svg>
</body></html>
